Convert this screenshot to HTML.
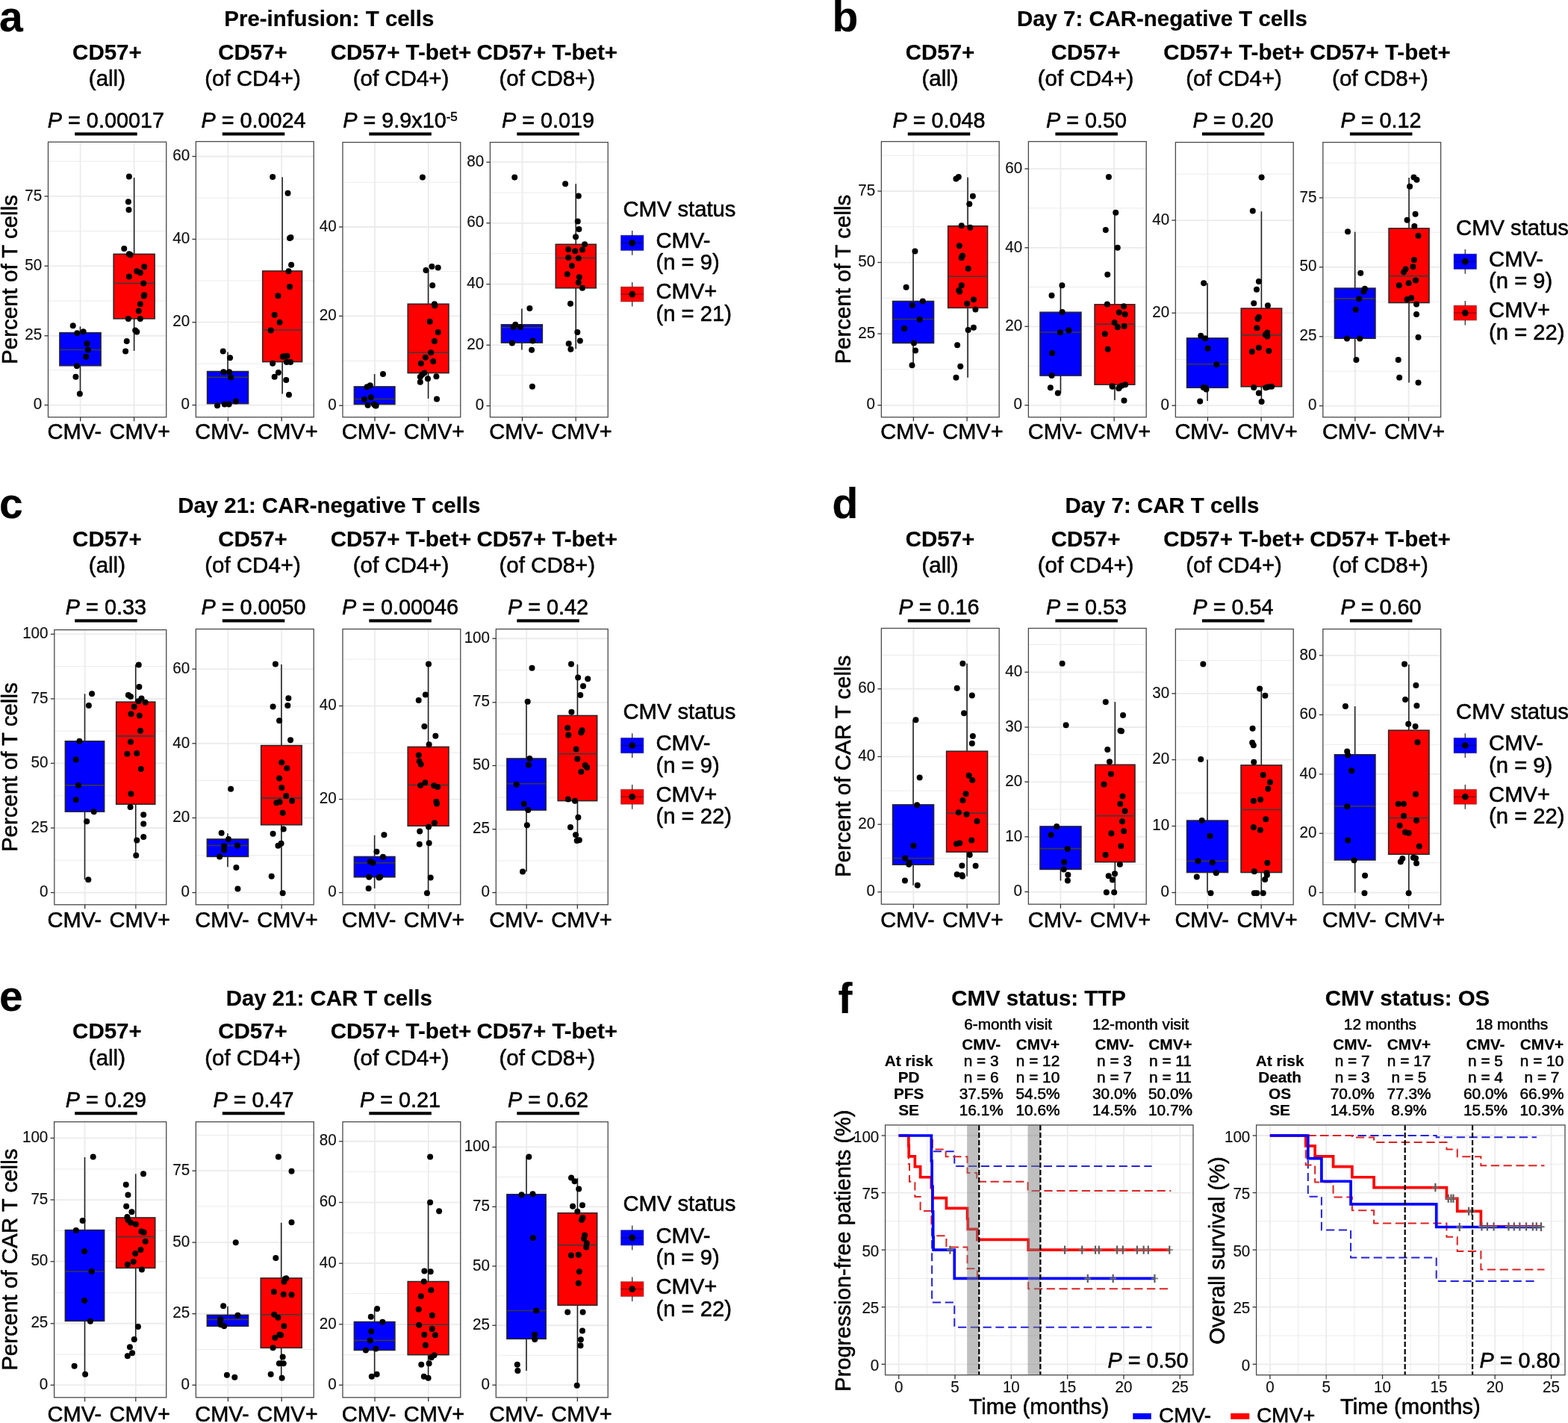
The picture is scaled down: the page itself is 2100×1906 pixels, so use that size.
<!DOCTYPE html>
<html><head><meta charset="utf-8"><title>Figure</title>
<style>html,body{margin:0;padding:0;background:#fff;}svg{display:block;}text{stroke:#000;stroke-width:0.55px;stroke-linejoin:round;}text[font-weight="bold"]{stroke-width:0.2px;}text.tk{stroke-width:0.15px;}</style>
</head><body>
<svg width="2100" height="1906" viewBox="0 0 2100 1906" font-family="'Liberation Sans', Arial, Helvetica, sans-serif">
<rect x="0" y="0" width="2100" height="1906" fill="#ffffff"/>
<text transform="translate(-1 41.8)" font-size="57" font-weight="bold" fill="#000">a</text>
<text transform="translate(440.8 35.1)" font-size="29.4" font-weight="bold" text-anchor="middle" fill="#000">Pre-infusion: T cells</text>
<rect x="64.5" y="190.19" width="158.23" height="368.58" fill="#ffffff"/>
<line x1="64.5" y1="216.15" x2="222.73" y2="216.15" stroke="#ebebeb" stroke-width="1"/>
<line x1="64.5" y1="309.59" x2="222.73" y2="309.59" stroke="#ebebeb" stroke-width="1"/>
<line x1="64.5" y1="403.03" x2="222.73" y2="403.03" stroke="#ebebeb" stroke-width="1"/>
<line x1="64.5" y1="495.85" x2="222.73" y2="495.85" stroke="#ebebeb" stroke-width="1"/>
<line x1="64.5" y1="262.87" x2="222.73" y2="262.87" stroke="#ebebeb" stroke-width="1.8"/>
<line x1="64.5" y1="356.31" x2="222.73" y2="356.31" stroke="#ebebeb" stroke-width="1.8"/>
<line x1="64.5" y1="449.75" x2="222.73" y2="449.75" stroke="#ebebeb" stroke-width="1.8"/>
<line x1="64.5" y1="542.57" x2="222.73" y2="542.57" stroke="#ebebeb" stroke-width="1.8"/>
<line x1="107.66" y1="190.19" x2="107.66" y2="558.77" stroke="#ebebeb" stroke-width="1.8"/>
<line x1="179.58" y1="190.19" x2="179.58" y2="558.77" stroke="#ebebeb" stroke-width="1.8"/>
<line x1="107.49" y1="437.3" x2="107.49" y2="445.6" stroke="#222" stroke-width="1.6"/>
<line x1="107.49" y1="489.83" x2="107.49" y2="527.62" stroke="#222" stroke-width="1.6"/>
<rect x="79.87" y="445.6" width="55.23" height="44.23" fill="#0000ff" stroke="#262626" stroke-width="1.5"/>
<line x1="79.87" y1="468.44" x2="135.1" y2="468.44" stroke="#3a3a3a" stroke-width="1.6"/>
<line x1="179.64" y1="237.95" x2="179.64" y2="340.32" stroke="#222" stroke-width="1.6"/>
<line x1="179.64" y1="426.91" x2="179.64" y2="469.9" stroke="#222" stroke-width="1.6"/>
<rect x="152.13" y="340.32" width="55.03" height="86.59" fill="#ff0000" stroke="#262626" stroke-width="1.5"/>
<line x1="152.13" y1="379.57" x2="207.16" y2="379.57" stroke="#3a3a3a" stroke-width="1.6"/>
<g fill="#000"><circle cx="97.73" cy="436.26" r="4"/><circle cx="103.33" cy="446.22" r="4"/><circle cx="111.64" cy="444.15" r="4"/><circle cx="116.42" cy="460.14" r="4"/><circle cx="117.87" cy="468.44" r="4"/><circle cx="115.17" cy="477.79" r="4"/><circle cx="102.92" cy="490.25" r="4"/><circle cx="101.46" cy="504.78" r="4"/><circle cx="106.86" cy="527.62" r="4"/><circle cx="172.9" cy="236.5" r="4"/><circle cx="171.86" cy="270.14" r="4"/><circle cx="172.48" cy="280.93" r="4"/><circle cx="166.25" cy="333.05" r="4"/><circle cx="172.9" cy="340.32" r="4"/><circle cx="174.56" cy="341.15" r="4"/><circle cx="193.25" cy="357.35" r="4"/><circle cx="183.28" cy="363.16" r="4"/><circle cx="187.85" cy="365.24" r="4"/><circle cx="172.9" cy="370.43" r="4"/><circle cx="192.21" cy="379.57" r="4"/><circle cx="193.25" cy="395.35" r="4"/><circle cx="192.62" cy="396.39" r="4"/><circle cx="187.85" cy="407.19" r="4"/><circle cx="185.77" cy="416.53" r="4"/><circle cx="171.86" cy="426.91" r="4"/><circle cx="187.85" cy="426.91" r="4"/><circle cx="181.2" cy="442.49" r="4"/><circle cx="183.28" cy="444.56" r="4"/><circle cx="169.78" cy="457.02" r="4"/><circle cx="168.12" cy="470.52" r="4"/></g>
<rect x="64.5" y="190.19" width="158.23" height="368.58" fill="none" stroke="#4a4a4a" stroke-width="1.3"/>
<line x1="59.5" y1="262.87" x2="64.5" y2="262.87" stroke="#333333" stroke-width="1.3"/>
<text transform="translate(56.2 268.57) scale(1 1.05)" font-size="20.6" text-anchor="end" fill="#111111" class="tk">75</text>
<line x1="59.5" y1="356.31" x2="64.5" y2="356.31" stroke="#333333" stroke-width="1.3"/>
<text transform="translate(56.2 362.01) scale(1 1.05)" font-size="20.6" text-anchor="end" fill="#111111" class="tk">50</text>
<line x1="59.5" y1="449.75" x2="64.5" y2="449.75" stroke="#333333" stroke-width="1.3"/>
<text transform="translate(56.2 455.45) scale(1 1.05)" font-size="20.6" text-anchor="end" fill="#111111" class="tk">25</text>
<line x1="59.5" y1="542.57" x2="64.5" y2="542.57" stroke="#333333" stroke-width="1.3"/>
<text transform="translate(56.2 548.27) scale(1 1.05)" font-size="20.6" text-anchor="end" fill="#111111" class="tk">0</text>
<line x1="107.66" y1="558.77" x2="107.66" y2="564.27" stroke="#333333" stroke-width="1.3"/>
<line x1="179.58" y1="558.77" x2="179.58" y2="564.27" stroke="#333333" stroke-width="1.3"/>
<text transform="translate(63.6 588)" font-size="29" fill="#000">CMV-</text>
<text transform="translate(146.6 588)" font-size="29" fill="#000">CMV+</text>
<text transform="translate(143.4 79.5)" font-size="29.5" font-weight="bold" text-anchor="middle" fill="#000">CD57+</text>
<text transform="translate(143.4 115.2)" font-size="29.5" text-anchor="middle" fill="#000">(all)</text>
<text transform="translate(141.9 171) scale(1 1.0)" font-size="28.8" text-anchor="middle"><tspan font-style="italic">P</tspan> = 0.00017</text>
<rect x="100.2" y="177.4" width="83.5" height="4.1" fill="#000"/>
<rect x="262.38" y="189.57" width="157.81" height="369.2" fill="#ffffff"/>
<line x1="262.38" y1="264.95" x2="420.19" y2="264.95" stroke="#ebebeb" stroke-width="1"/>
<line x1="262.38" y1="376.04" x2="420.19" y2="376.04" stroke="#ebebeb" stroke-width="1"/>
<line x1="262.38" y1="487.13" x2="420.19" y2="487.13" stroke="#ebebeb" stroke-width="1"/>
<line x1="262.38" y1="209.5" x2="420.19" y2="209.5" stroke="#ebebeb" stroke-width="1.8"/>
<line x1="262.38" y1="320.39" x2="420.19" y2="320.39" stroke="#ebebeb" stroke-width="1.8"/>
<line x1="262.38" y1="431.69" x2="420.19" y2="431.69" stroke="#ebebeb" stroke-width="1.8"/>
<line x1="262.38" y1="542.57" x2="420.19" y2="542.57" stroke="#ebebeb" stroke-width="1.8"/>
<line x1="305.42" y1="189.57" x2="305.42" y2="558.77" stroke="#ebebeb" stroke-width="1.8"/>
<line x1="377.15" y1="189.57" x2="377.15" y2="558.77" stroke="#ebebeb" stroke-width="1.8"/>
<line x1="305.05" y1="471.56" x2="305.05" y2="497.51" stroke="#222" stroke-width="1.6"/>
<rect x="277.54" y="497.51" width="55.03" height="43.19" fill="#0000ff" stroke="#262626" stroke-width="1.5"/>
<line x1="277.54" y1="505.4" x2="332.56" y2="505.4" stroke="#3a3a3a" stroke-width="1.6"/>
<line x1="378.14" y1="237.33" x2="378.14" y2="362.96" stroke="#222" stroke-width="1.6"/>
<line x1="378.14" y1="484.64" x2="378.14" y2="527.62" stroke="#222" stroke-width="1.6"/>
<rect x="351.67" y="362.96" width="52.95" height="121.68" fill="#ff0000" stroke="#262626" stroke-width="1.5"/>
<line x1="351.67" y1="442.07" x2="404.62" y2="442.07" stroke="#3a3a3a" stroke-width="1.6"/>
<g fill="#000"><circle cx="298.72" cy="470.52" r="4"/><circle cx="308.06" cy="479.24" r="4"/><circle cx="299.34" cy="498.14" r="4"/><circle cx="307.02" cy="498.14" r="4"/><circle cx="309.1" cy="505.4" r="4"/><circle cx="291.03" cy="543.2" r="4"/><circle cx="300.79" cy="541.54" r="4"/><circle cx="306.61" cy="541.54" r="4"/><circle cx="315.95" cy="537.59" r="4"/><circle cx="365.16" cy="236.91" r="4"/><circle cx="385.51" cy="258.72" r="4"/><circle cx="388.01" cy="318.93" r="4"/><circle cx="389.46" cy="317.9" r="4"/><circle cx="390.08" cy="354.86" r="4"/><circle cx="386.55" cy="363.16" r="4"/><circle cx="388.01" cy="383.93" r="4"/><circle cx="372.43" cy="396.18" r="4"/><circle cx="367.66" cy="421.72" r="4"/><circle cx="374.51" cy="431.69" r="4"/><circle cx="362.67" cy="442.49" r="4"/><circle cx="380.32" cy="477.37" r="4"/><circle cx="384.48" cy="476.75" r="4"/><circle cx="378.66" cy="477.79" r="4"/><circle cx="365.16" cy="486.72" r="4"/><circle cx="383.85" cy="485.05" r="4"/><circle cx="389.04" cy="485.05" r="4"/><circle cx="372.85" cy="498.97" r="4"/><circle cx="367.66" cy="504.78" r="4"/><circle cx="383.23" cy="508.93" r="4"/><circle cx="386.97" cy="528.66" r="4"/></g>
<rect x="262.38" y="189.57" width="157.81" height="369.2" fill="none" stroke="#4a4a4a" stroke-width="1.3"/>
<line x1="257.38" y1="209.5" x2="262.38" y2="209.5" stroke="#333333" stroke-width="1.3"/>
<text transform="translate(254.08 215.2) scale(1 1.05)" font-size="20.6" text-anchor="end" fill="#111111" class="tk">60</text>
<line x1="257.38" y1="320.39" x2="262.38" y2="320.39" stroke="#333333" stroke-width="1.3"/>
<text transform="translate(254.08 326.09) scale(1 1.05)" font-size="20.6" text-anchor="end" fill="#111111" class="tk">40</text>
<line x1="257.38" y1="431.69" x2="262.38" y2="431.69" stroke="#333333" stroke-width="1.3"/>
<text transform="translate(254.08 437.39) scale(1 1.05)" font-size="20.6" text-anchor="end" fill="#111111" class="tk">20</text>
<line x1="257.38" y1="542.57" x2="262.38" y2="542.57" stroke="#333333" stroke-width="1.3"/>
<text transform="translate(254.08 548.27) scale(1 1.05)" font-size="20.6" text-anchor="end" fill="#111111" class="tk">0</text>
<line x1="305.42" y1="558.77" x2="305.42" y2="564.27" stroke="#333333" stroke-width="1.3"/>
<line x1="377.15" y1="558.77" x2="377.15" y2="564.27" stroke="#333333" stroke-width="1.3"/>
<text transform="translate(261.2 588)" font-size="29" fill="#000">CMV-</text>
<text transform="translate(344.2 588)" font-size="29" fill="#000">CMV+</text>
<text transform="translate(338.5 79.5)" font-size="29.5" font-weight="bold" text-anchor="middle" fill="#000">CD57+</text>
<text transform="translate(338.5 115.2)" font-size="29.5" text-anchor="middle" fill="#000">(of CD4+)</text>
<text transform="translate(339.5 171) scale(1 1.0)" font-size="28.8" text-anchor="middle"><tspan font-style="italic">P</tspan> = 0.0024</text>
<rect x="297.8" y="177.4" width="83.5" height="4.1" fill="#000"/>
<rect x="458.96" y="190.61" width="157.81" height="368.16" fill="#ffffff"/>
<line x1="458.96" y1="244.18" x2="616.78" y2="244.18" stroke="#ebebeb" stroke-width="1"/>
<line x1="458.96" y1="363.58" x2="616.78" y2="363.58" stroke="#ebebeb" stroke-width="1"/>
<line x1="458.96" y1="483.39" x2="616.78" y2="483.39" stroke="#ebebeb" stroke-width="1"/>
<line x1="458.96" y1="303.98" x2="616.78" y2="303.98" stroke="#ebebeb" stroke-width="1.8"/>
<line x1="458.96" y1="423.38" x2="616.78" y2="423.38" stroke="#ebebeb" stroke-width="1.8"/>
<line x1="458.96" y1="543.2" x2="616.78" y2="543.2" stroke="#ebebeb" stroke-width="1.8"/>
<line x1="502" y1="190.61" x2="502" y2="558.77" stroke="#ebebeb" stroke-width="1.8"/>
<line x1="573.74" y1="190.61" x2="573.74" y2="558.77" stroke="#ebebeb" stroke-width="1.8"/>
<line x1="501.63" y1="501.04" x2="501.63" y2="517.86" stroke="#222" stroke-width="1.6"/>
<rect x="474.33" y="517.86" width="54.61" height="23.67" fill="#0000ff" stroke="#262626" stroke-width="1.5"/>
<line x1="474.33" y1="534.48" x2="528.94" y2="534.48" stroke="#3a3a3a" stroke-width="1.6"/>
<line x1="573.58" y1="361.5" x2="573.58" y2="407.19" stroke="#222" stroke-width="1.6"/>
<line x1="573.58" y1="499.59" x2="573.58" y2="533.85" stroke="#222" stroke-width="1.6"/>
<rect x="546.17" y="407.19" width="54.82" height="92.4" fill="#ff0000" stroke="#262626" stroke-width="1.5"/>
<line x1="546.17" y1="472.18" x2="600.99" y2="472.18" stroke="#3a3a3a" stroke-width="1.6"/>
<g fill="#000"><circle cx="512.95" cy="501.04" r="4"/><circle cx="491.56" cy="518.28" r="4"/><circle cx="495.72" cy="516.2" r="4"/><circle cx="496.75" cy="532.19" r="4"/><circle cx="488.03" cy="534.89" r="4"/><circle cx="492.6" cy="542.78" r="4"/><circle cx="500.91" cy="541.54" r="4"/><circle cx="503.61" cy="543.61" r="4"/><circle cx="502.57" cy="543.2" r="4"/><circle cx="565.9" cy="237.54" r="4"/><circle cx="578.36" cy="356.93" r="4"/><circle cx="586.67" cy="358.39" r="4"/><circle cx="570.47" cy="361.92" r="4"/><circle cx="579.19" cy="382.27" r="4"/><circle cx="581.89" cy="407.19" r="4"/><circle cx="582.31" cy="409.26" r="4"/><circle cx="575.66" cy="430.65" r="4"/><circle cx="586.67" cy="444.98" r="4"/><circle cx="581.89" cy="457.02" r="4"/><circle cx="577.11" cy="472.18" r="4"/><circle cx="569.85" cy="478.83" r="4"/><circle cx="580.23" cy="484.02" r="4"/><circle cx="563.83" cy="486.72" r="4"/><circle cx="568.39" cy="499.59" r="4"/><circle cx="565.28" cy="501.67" r="4"/><circle cx="562.79" cy="504.78" r="4"/><circle cx="572.96" cy="507.27" r="4"/><circle cx="584.38" cy="504.16" r="4"/><circle cx="562.79" cy="511.63" r="4"/><circle cx="585.01" cy="534.48" r="4"/></g>
<rect x="458.96" y="190.61" width="157.81" height="368.16" fill="none" stroke="#4a4a4a" stroke-width="1.3"/>
<line x1="453.96" y1="303.98" x2="458.96" y2="303.98" stroke="#333333" stroke-width="1.3"/>
<text transform="translate(450.66 309.68) scale(1 1.05)" font-size="20.6" text-anchor="end" fill="#111111" class="tk">40</text>
<line x1="453.96" y1="423.38" x2="458.96" y2="423.38" stroke="#333333" stroke-width="1.3"/>
<text transform="translate(450.66 429.08) scale(1 1.05)" font-size="20.6" text-anchor="end" fill="#111111" class="tk">20</text>
<line x1="453.96" y1="543.2" x2="458.96" y2="543.2" stroke="#333333" stroke-width="1.3"/>
<text transform="translate(450.66 548.9) scale(1 1.05)" font-size="20.6" text-anchor="end" fill="#111111" class="tk">0</text>
<line x1="502" y1="558.77" x2="502" y2="564.27" stroke="#333333" stroke-width="1.3"/>
<line x1="573.74" y1="558.77" x2="573.74" y2="564.27" stroke="#333333" stroke-width="1.3"/>
<text transform="translate(457.8 588)" font-size="29" fill="#000">CMV-</text>
<text transform="translate(540.8 588)" font-size="29" fill="#000">CMV+</text>
<text transform="translate(537 79.5)" font-size="29.5" font-weight="bold" text-anchor="middle" fill="#000">CD57+ T-bet+</text>
<text transform="translate(537 115.2)" font-size="29.5" text-anchor="middle" fill="#000">(of CD4+)</text>
<text transform="translate(536 171) scale(1 1.0)" font-size="28.8" text-anchor="middle"><tspan font-style="italic">P</tspan> = 9.9x10<tspan font-size="17" dy="-9">-5</tspan></text>
<rect x="494.3" y="177.4" width="83.5" height="4.1" fill="#000"/>
<rect x="656.42" y="190.61" width="157.81" height="368.16" fill="#ffffff"/>
<line x1="656.42" y1="258.09" x2="814.23" y2="258.09" stroke="#ebebeb" stroke-width="1"/>
<line x1="656.42" y1="339.7" x2="814.23" y2="339.7" stroke="#ebebeb" stroke-width="1"/>
<line x1="656.42" y1="421.31" x2="814.23" y2="421.31" stroke="#ebebeb" stroke-width="1"/>
<line x1="656.42" y1="502.7" x2="814.23" y2="502.7" stroke="#ebebeb" stroke-width="1"/>
<line x1="656.42" y1="217.19" x2="814.23" y2="217.19" stroke="#ebebeb" stroke-width="1.8"/>
<line x1="656.42" y1="298.79" x2="814.23" y2="298.79" stroke="#ebebeb" stroke-width="1.8"/>
<line x1="656.42" y1="380.61" x2="814.23" y2="380.61" stroke="#ebebeb" stroke-width="1.8"/>
<line x1="656.42" y1="462.21" x2="814.23" y2="462.21" stroke="#ebebeb" stroke-width="1.8"/>
<line x1="656.42" y1="543.61" x2="814.23" y2="543.61" stroke="#ebebeb" stroke-width="1.8"/>
<line x1="699.46" y1="190.61" x2="699.46" y2="558.77" stroke="#ebebeb" stroke-width="1.8"/>
<line x1="771.19" y1="190.61" x2="771.19" y2="558.77" stroke="#ebebeb" stroke-width="1.8"/>
<line x1="698.88" y1="413.42" x2="698.88" y2="434.8" stroke="#222" stroke-width="1.6"/>
<line x1="698.88" y1="459.1" x2="698.88" y2="468.44" stroke="#222" stroke-width="1.6"/>
<rect x="671.37" y="434.8" width="55.03" height="24.3" fill="#0000ff" stroke="#262626" stroke-width="1.5"/>
<line x1="671.37" y1="438.75" x2="726.39" y2="438.75" stroke="#3a3a3a" stroke-width="1.6"/>
<line x1="771.25" y1="246.26" x2="771.25" y2="327.24" stroke="#222" stroke-width="1.6"/>
<line x1="771.25" y1="385.8" x2="771.25" y2="467.4" stroke="#222" stroke-width="1.6"/>
<rect x="744.25" y="327.24" width="53.99" height="58.56" fill="#ff0000" stroke="#262626" stroke-width="1.5"/>
<line x1="744.25" y1="345.51" x2="798.24" y2="345.51" stroke="#3a3a3a" stroke-width="1.6"/>
<g fill="#000"><circle cx="689.22" cy="237.54" r="4"/><circle cx="709.37" cy="413" r="4"/><circle cx="690.26" cy="434.8" r="4"/><circle cx="687.56" cy="437.92" r="4"/><circle cx="696.91" cy="437.92" r="4"/><circle cx="685.9" cy="459.51" r="4"/><circle cx="713.52" cy="456.61" r="4"/><circle cx="712.07" cy="468.86" r="4"/><circle cx="712.9" cy="517.66" r="4"/><circle cx="757.13" cy="246.26" r="4"/><circle cx="774.78" cy="262.45" r="4"/><circle cx="773.74" cy="296.51" r="4"/><circle cx="775.4" cy="306.89" r="4"/><circle cx="771.04" cy="317.27" r="4"/><circle cx="783.08" cy="327.24" r="4"/><circle cx="761.28" cy="334.09" r="4"/><circle cx="770.21" cy="336.17" r="4"/><circle cx="779.97" cy="334.51" r="4"/><circle cx="761.28" cy="344.89" r="4"/><circle cx="774.78" cy="345.93" r="4"/><circle cx="765.85" cy="355.9" r="4"/><circle cx="759.83" cy="367.32" r="4"/><circle cx="775.81" cy="371.26" r="4"/><circle cx="774.78" cy="378.53" r="4"/><circle cx="779.97" cy="385.8" r="4"/><circle cx="763.98" cy="406.77" r="4"/><circle cx="773.32" cy="444.98" r="4"/><circle cx="776.85" cy="456.61" r="4"/><circle cx="761.69" cy="460.14" r="4"/><circle cx="764.39" cy="467.82" r="4"/></g>
<rect x="656.42" y="190.61" width="157.81" height="368.16" fill="none" stroke="#4a4a4a" stroke-width="1.3"/>
<line x1="651.42" y1="217.19" x2="656.42" y2="217.19" stroke="#333333" stroke-width="1.3"/>
<text transform="translate(648.12 222.89) scale(1 1.05)" font-size="20.6" text-anchor="end" fill="#111111" class="tk">80</text>
<line x1="651.42" y1="298.79" x2="656.42" y2="298.79" stroke="#333333" stroke-width="1.3"/>
<text transform="translate(648.12 304.49) scale(1 1.05)" font-size="20.6" text-anchor="end" fill="#111111" class="tk">60</text>
<line x1="651.42" y1="380.61" x2="656.42" y2="380.61" stroke="#333333" stroke-width="1.3"/>
<text transform="translate(648.12 386.31) scale(1 1.05)" font-size="20.6" text-anchor="end" fill="#111111" class="tk">40</text>
<line x1="651.42" y1="462.21" x2="656.42" y2="462.21" stroke="#333333" stroke-width="1.3"/>
<text transform="translate(648.12 467.91) scale(1 1.05)" font-size="20.6" text-anchor="end" fill="#111111" class="tk">20</text>
<line x1="651.42" y1="543.61" x2="656.42" y2="543.61" stroke="#333333" stroke-width="1.3"/>
<text transform="translate(648.12 549.31) scale(1 1.05)" font-size="20.6" text-anchor="end" fill="#111111" class="tk">0</text>
<line x1="699.46" y1="558.77" x2="699.46" y2="564.27" stroke="#333333" stroke-width="1.3"/>
<line x1="771.19" y1="558.77" x2="771.19" y2="564.27" stroke="#333333" stroke-width="1.3"/>
<text transform="translate(655.3 588)" font-size="29" fill="#000">CMV-</text>
<text transform="translate(738.3 588)" font-size="29" fill="#000">CMV+</text>
<text transform="translate(732.8 79.5)" font-size="29.5" font-weight="bold" text-anchor="middle" fill="#000">CD57+ T-bet+</text>
<text transform="translate(732.8 115.2)" font-size="29.5" text-anchor="middle" fill="#000">(of CD8+)</text>
<text transform="translate(734 171) scale(1 1.0)" font-size="28.8" text-anchor="middle"><tspan font-style="italic">P</tspan> = 0.019</text>
<rect x="692.3" y="177.4" width="83.5" height="4.1" fill="#000"/>
<text x="0" y="0" font-size="29.5" text-anchor="middle" transform="translate(23.2 374.48) rotate(-90) scale(1 1.0)">Percent of T cells</text>
<text transform="translate(834.5 289.6)" font-size="29.2" fill="#000">CMV status</text>
<line x1="846.7" y1="309.1" x2="846.7" y2="341.8" stroke="#333333" stroke-width="1.3"/>
<rect x="831.5" y="315.2" width="30.4" height="20.3" fill="#0000ff" stroke="rgba(0,0,0,0.3)" stroke-width="1.2"/>
<line x1="831.5" y1="325.35" x2="861.9" y2="325.35" stroke="rgba(0,0,0,0.35)" stroke-width="1.4"/>
<circle cx="846.7" cy="325.35" r="4.3" fill="#000"/>
<text transform="translate(878.5 332)" font-size="29.2" fill="#000">CMV-</text>
<text transform="translate(878.5 361.3)" font-size="29.2" fill="#000">(n = 9)</text>
<line x1="846.7" y1="377.9" x2="846.7" y2="410.6" stroke="#333333" stroke-width="1.3"/>
<rect x="831.5" y="384.2" width="30.4" height="19.8" fill="#ff0000" stroke="rgba(0,0,0,0.3)" stroke-width="1.2"/>
<line x1="831.5" y1="394.1" x2="861.9" y2="394.1" stroke="rgba(0,0,0,0.35)" stroke-width="1.4"/>
<circle cx="846.7" cy="394.1" r="4.3" fill="#000"/>
<text transform="translate(878.5 400.3)" font-size="29.2" fill="#000">CMV+</text>
<text transform="translate(878.5 430.1)" font-size="29.2" fill="#000">(n = 21)</text>
<text transform="translate(1114.6 41.8)" font-size="57" font-weight="bold" fill="#000">b</text>
<text transform="translate(1556.4 35.1)" font-size="29.4" font-weight="bold" text-anchor="middle" fill="#000">Day 7: CAR-negative T cells</text>
<rect x="1180.38" y="189.57" width="157.81" height="369.2" fill="#ffffff"/>
<line x1="1180.38" y1="208.26" x2="1338.19" y2="208.26" stroke="#ebebeb" stroke-width="1"/>
<line x1="1180.38" y1="303.78" x2="1338.19" y2="303.78" stroke="#ebebeb" stroke-width="1"/>
<line x1="1180.38" y1="399.3" x2="1338.19" y2="399.3" stroke="#ebebeb" stroke-width="1"/>
<line x1="1180.38" y1="494.81" x2="1338.19" y2="494.81" stroke="#ebebeb" stroke-width="1"/>
<line x1="1180.38" y1="256.02" x2="1338.19" y2="256.02" stroke="#ebebeb" stroke-width="1.8"/>
<line x1="1180.38" y1="351.54" x2="1338.19" y2="351.54" stroke="#ebebeb" stroke-width="1.8"/>
<line x1="1180.38" y1="447.05" x2="1338.19" y2="447.05" stroke="#ebebeb" stroke-width="1.8"/>
<line x1="1180.38" y1="542.78" x2="1338.19" y2="542.78" stroke="#ebebeb" stroke-width="1.8"/>
<line x1="1223.42" y1="189.57" x2="1223.42" y2="558.77" stroke="#ebebeb" stroke-width="1.8"/>
<line x1="1295.15" y1="189.57" x2="1295.15" y2="558.77" stroke="#ebebeb" stroke-width="1.8"/>
<line x1="1223.05" y1="336.58" x2="1223.05" y2="403.45" stroke="#222" stroke-width="1.6"/>
<line x1="1223.05" y1="459.51" x2="1223.05" y2="489.21" stroke="#222" stroke-width="1.6"/>
<rect x="1195.54" y="403.45" width="55.03" height="56.07" fill="#0000ff" stroke="#262626" stroke-width="1.5"/>
<line x1="1195.54" y1="427.54" x2="1250.56" y2="427.54" stroke="#3a3a3a" stroke-width="1.6"/>
<line x1="1296.14" y1="237.54" x2="1296.14" y2="302.74" stroke="#222" stroke-width="1.6"/>
<line x1="1296.14" y1="412.38" x2="1296.14" y2="505.82" stroke="#222" stroke-width="1.6"/>
<rect x="1269.67" y="302.74" width="52.95" height="109.64" fill="#ff0000" stroke="#262626" stroke-width="1.5"/>
<line x1="1269.67" y1="370.22" x2="1322.62" y2="370.22" stroke="#3a3a3a" stroke-width="1.6"/>
<g fill="#000"><circle cx="1225.44" cy="336.58" r="4"/><circle cx="1213.6" cy="384.76" r="4"/><circle cx="1235.82" cy="403.45" r="4"/><circle cx="1221.91" cy="408.64" r="4"/><circle cx="1231.67" cy="427.95" r="4"/><circle cx="1211.11" cy="439.99" r="4"/><circle cx="1223.98" cy="459.51" r="4"/><circle cx="1226.06" cy="469.48" r="4"/><circle cx="1221.49" cy="489.21" r="4"/><circle cx="1280.46" cy="239.4" r="4"/><circle cx="1283.79" cy="236.91" r="4"/><circle cx="1302.89" cy="262.87" r="4"/><circle cx="1298.32" cy="273.25" r="4"/><circle cx="1287.73" cy="302.32" r="4"/><circle cx="1299.36" cy="304.81" r="4"/><circle cx="1284.83" cy="329.32" r="4"/><circle cx="1288.98" cy="342.4" r="4"/><circle cx="1287.73" cy="345.31" r="4"/><circle cx="1296.66" cy="359.84" r="4"/><circle cx="1287.73" cy="382.27" r="4"/><circle cx="1284.2" cy="389.12" r="4"/><circle cx="1285.24" cy="390.57" r="4"/><circle cx="1295.21" cy="406.77" r="4"/><circle cx="1303.93" cy="401.37" r="4"/><circle cx="1306.42" cy="414.45" r="4"/><circle cx="1296.66" cy="442.07" r="4"/><circle cx="1303.93" cy="438.75" r="4"/><circle cx="1282.13" cy="462.21" r="4"/><circle cx="1286.28" cy="490.87" r="4"/><circle cx="1280.46" cy="505.82" r="4"/></g>
<rect x="1180.38" y="189.57" width="157.81" height="369.2" fill="none" stroke="#4a4a4a" stroke-width="1.3"/>
<line x1="1175.38" y1="256.02" x2="1180.38" y2="256.02" stroke="#333333" stroke-width="1.3"/>
<text transform="translate(1172.08 261.72) scale(1 1.05)" font-size="20.6" text-anchor="end" fill="#111111" class="tk">75</text>
<line x1="1175.38" y1="351.54" x2="1180.38" y2="351.54" stroke="#333333" stroke-width="1.3"/>
<text transform="translate(1172.08 357.24) scale(1 1.05)" font-size="20.6" text-anchor="end" fill="#111111" class="tk">50</text>
<line x1="1175.38" y1="447.05" x2="1180.38" y2="447.05" stroke="#333333" stroke-width="1.3"/>
<text transform="translate(1172.08 452.75) scale(1 1.05)" font-size="20.6" text-anchor="end" fill="#111111" class="tk">25</text>
<line x1="1175.38" y1="542.78" x2="1180.38" y2="542.78" stroke="#333333" stroke-width="1.3"/>
<text transform="translate(1172.08 548.48) scale(1 1.05)" font-size="20.6" text-anchor="end" fill="#111111" class="tk">0</text>
<line x1="1223.42" y1="558.77" x2="1223.42" y2="564.27" stroke="#333333" stroke-width="1.3"/>
<line x1="1295.15" y1="558.77" x2="1295.15" y2="564.27" stroke="#333333" stroke-width="1.3"/>
<text transform="translate(1179.2 588)" font-size="29" fill="#000">CMV-</text>
<text transform="translate(1262.2 588)" font-size="29" fill="#000">CMV+</text>
<text transform="translate(1259 79.5)" font-size="29.5" font-weight="bold" text-anchor="middle" fill="#000">CD57+</text>
<text transform="translate(1259 115.2)" font-size="29.5" text-anchor="middle" fill="#000">(all)</text>
<text transform="translate(1257.5 171) scale(1 1.0)" font-size="28.8" text-anchor="middle"><tspan font-style="italic">P</tspan> = 0.048</text>
<rect x="1215.8" y="177.4" width="83.5" height="4.1" fill="#000"/>
<rect x="1377.38" y="189.57" width="157.81" height="369.2" fill="#ffffff"/>
<line x1="1377.38" y1="278.86" x2="1535.19" y2="278.86" stroke="#ebebeb" stroke-width="1"/>
<line x1="1377.38" y1="384.34" x2="1535.19" y2="384.34" stroke="#ebebeb" stroke-width="1"/>
<line x1="1377.38" y1="490.25" x2="1535.19" y2="490.25" stroke="#ebebeb" stroke-width="1"/>
<line x1="1377.38" y1="226.11" x2="1535.19" y2="226.11" stroke="#ebebeb" stroke-width="1.8"/>
<line x1="1377.38" y1="331.81" x2="1535.19" y2="331.81" stroke="#ebebeb" stroke-width="1.8"/>
<line x1="1377.38" y1="437.3" x2="1535.19" y2="437.3" stroke="#ebebeb" stroke-width="1.8"/>
<line x1="1377.38" y1="542.78" x2="1535.19" y2="542.78" stroke="#ebebeb" stroke-width="1.8"/>
<line x1="1420.42" y1="189.57" x2="1420.42" y2="558.77" stroke="#ebebeb" stroke-width="1.8"/>
<line x1="1492.15" y1="189.57" x2="1492.15" y2="558.77" stroke="#ebebeb" stroke-width="1.8"/>
<line x1="1420.46" y1="382.27" x2="1420.46" y2="418.19" stroke="#222" stroke-width="1.6"/>
<line x1="1420.46" y1="503.12" x2="1420.46" y2="526.58" stroke="#222" stroke-width="1.6"/>
<rect x="1392.95" y="418.19" width="55.03" height="84.93" fill="#0000ff" stroke="#262626" stroke-width="1.5"/>
<line x1="1392.95" y1="444.98" x2="1447.98" y2="444.98" stroke="#3a3a3a" stroke-width="1.6"/>
<line x1="1492.93" y1="284.67" x2="1492.93" y2="407.81" stroke="#222" stroke-width="1.6"/>
<line x1="1492.93" y1="515.16" x2="1492.93" y2="535.93" stroke="#222" stroke-width="1.6"/>
<rect x="1466.04" y="407.81" width="53.78" height="107.36" fill="#ff0000" stroke="#262626" stroke-width="1.5"/>
<line x1="1466.04" y1="434.18" x2="1519.83" y2="434.18" stroke="#3a3a3a" stroke-width="1.6"/>
<g fill="#000"><circle cx="1422.44" cy="382.27" r="4"/><circle cx="1408.52" cy="395.77" r="4"/><circle cx="1422.64" cy="417.98" r="4"/><circle cx="1419.95" cy="445.19" r="4"/><circle cx="1431.37" cy="442.49" r="4"/><circle cx="1409.15" cy="473.01" r="4"/><circle cx="1408.52" cy="503.12" r="4"/><circle cx="1406.86" cy="519.32" r="4"/><circle cx="1416.83" cy="526.58" r="4"/><circle cx="1484.94" cy="236.91" r="4"/><circle cx="1494.28" cy="284.67" r="4"/><circle cx="1480.79" cy="307.93" r="4"/><circle cx="1496.78" cy="331.81" r="4"/><circle cx="1483.28" cy="367.73" r="4"/><circle cx="1482.86" cy="407.6" r="4"/><circle cx="1505.08" cy="410.3" r="4"/><circle cx="1498.85" cy="418.61" r="4"/><circle cx="1506.74" cy="421.1" r="4"/><circle cx="1492.62" cy="432.1" r="4"/><circle cx="1496.78" cy="438.33" r="4"/><circle cx="1505.7" cy="436.88" r="4"/><circle cx="1479.75" cy="447.26" r="4"/><circle cx="1483.69" cy="467.82" r="4"/><circle cx="1489.92" cy="517.86" r="4"/><circle cx="1498.85" cy="519.32" r="4"/><circle cx="1502.59" cy="516.62" r="4"/><circle cx="1507.16" cy="515.16" r="4"/><circle cx="1505.5" cy="536.55" r="4"/><circle cx="1498.23" cy="520.36" r="4"/><circle cx="1489.51" cy="517.24" r="4"/></g>
<rect x="1377.38" y="189.57" width="157.81" height="369.2" fill="none" stroke="#4a4a4a" stroke-width="1.3"/>
<line x1="1372.38" y1="226.11" x2="1377.38" y2="226.11" stroke="#333333" stroke-width="1.3"/>
<text transform="translate(1369.08 231.81) scale(1 1.05)" font-size="20.6" text-anchor="end" fill="#111111" class="tk">60</text>
<line x1="1372.38" y1="331.81" x2="1377.38" y2="331.81" stroke="#333333" stroke-width="1.3"/>
<text transform="translate(1369.08 337.51) scale(1 1.05)" font-size="20.6" text-anchor="end" fill="#111111" class="tk">40</text>
<line x1="1372.38" y1="437.3" x2="1377.38" y2="437.3" stroke="#333333" stroke-width="1.3"/>
<text transform="translate(1369.08 443) scale(1 1.05)" font-size="20.6" text-anchor="end" fill="#111111" class="tk">20</text>
<line x1="1372.38" y1="542.78" x2="1377.38" y2="542.78" stroke="#333333" stroke-width="1.3"/>
<text transform="translate(1369.08 548.48) scale(1 1.05)" font-size="20.6" text-anchor="end" fill="#111111" class="tk">0</text>
<line x1="1420.42" y1="558.77" x2="1420.42" y2="564.27" stroke="#333333" stroke-width="1.3"/>
<line x1="1492.15" y1="558.77" x2="1492.15" y2="564.27" stroke="#333333" stroke-width="1.3"/>
<text transform="translate(1376.8 588)" font-size="29" fill="#000">CMV-</text>
<text transform="translate(1459.8 588)" font-size="29" fill="#000">CMV+</text>
<text transform="translate(1454.1 79.5)" font-size="29.5" font-weight="bold" text-anchor="middle" fill="#000">CD57+</text>
<text transform="translate(1454.1 115.2)" font-size="29.5" text-anchor="middle" fill="#000">(of CD4+)</text>
<text transform="translate(1455.1 171) scale(1 1.0)" font-size="28.8" text-anchor="middle"><tspan font-style="italic">P</tspan> = 0.50</text>
<rect x="1413.4" y="177.4" width="83.5" height="4.1" fill="#000"/>
<rect x="1574.38" y="190.61" width="157.81" height="368.16" fill="#ffffff"/>
<line x1="1574.38" y1="233.17" x2="1732.19" y2="233.17" stroke="#ebebeb" stroke-width="1"/>
<line x1="1574.38" y1="357.35" x2="1732.19" y2="357.35" stroke="#ebebeb" stroke-width="1"/>
<line x1="1574.38" y1="481.52" x2="1732.19" y2="481.52" stroke="#ebebeb" stroke-width="1"/>
<line x1="1574.38" y1="295.05" x2="1732.19" y2="295.05" stroke="#ebebeb" stroke-width="1.8"/>
<line x1="1574.38" y1="419.23" x2="1732.19" y2="419.23" stroke="#ebebeb" stroke-width="1.8"/>
<line x1="1574.38" y1="543.2" x2="1732.19" y2="543.2" stroke="#ebebeb" stroke-width="1.8"/>
<line x1="1617.42" y1="190.61" x2="1617.42" y2="558.77" stroke="#ebebeb" stroke-width="1.8"/>
<line x1="1689.15" y1="190.61" x2="1689.15" y2="558.77" stroke="#ebebeb" stroke-width="1.8"/>
<line x1="1617.05" y1="379.15" x2="1617.05" y2="452.87" stroke="#222" stroke-width="1.6"/>
<line x1="1617.05" y1="519.32" x2="1617.05" y2="536.97" stroke="#222" stroke-width="1.6"/>
<rect x="1589.54" y="452.87" width="55.03" height="66.45" fill="#0000ff" stroke="#262626" stroke-width="1.5"/>
<line x1="1589.54" y1="487.75" x2="1644.56" y2="487.75" stroke="#3a3a3a" stroke-width="1.6"/>
<line x1="1689.42" y1="283.22" x2="1689.42" y2="413" stroke="#222" stroke-width="1.6"/>
<line x1="1689.42" y1="517.86" x2="1689.42" y2="538.01" stroke="#222" stroke-width="1.6"/>
<rect x="1662.21" y="413" width="54.4" height="104.86" fill="#ff0000" stroke="#262626" stroke-width="1.5"/>
<line x1="1662.21" y1="448.72" x2="1716.62" y2="448.72" stroke="#3a3a3a" stroke-width="1.6"/>
<g fill="#000"><circle cx="1612.17" cy="379.15" r="4"/><circle cx="1608.22" cy="449.75" r="4"/><circle cx="1614.25" cy="453.28" r="4"/><circle cx="1617.57" cy="466.78" r="4"/><circle cx="1629.4" cy="488.17" r="4"/><circle cx="1611.75" cy="518.9" r="4"/><circle cx="1615.49" cy="521.39" r="4"/><circle cx="1607.19" cy="537.38" r="4"/><circle cx="1614.25" cy="519.32" r="4"/><circle cx="1689.62" cy="237.54" r="4"/><circle cx="1677.79" cy="282.6" r="4"/><circle cx="1685.89" cy="377.08" r="4"/><circle cx="1682.98" cy="387.87" r="4"/><circle cx="1679.24" cy="406.15" r="4"/><circle cx="1697.93" cy="409.26" r="4"/><circle cx="1685.89" cy="424.84" r="4"/><circle cx="1684.43" cy="426.91" r="4"/><circle cx="1683.39" cy="439.37" r="4"/><circle cx="1697.31" cy="445.6" r="4"/><circle cx="1694.81" cy="448.3" r="4"/><circle cx="1697.31" cy="450.38" r="4"/><circle cx="1685.89" cy="465.74" r="4"/><circle cx="1676.75" cy="470.93" r="4"/><circle cx="1699.38" cy="469.9" r="4"/><circle cx="1679.24" cy="518.9" r="4"/><circle cx="1695.23" cy="519.32" r="4"/><circle cx="1698.34" cy="518.28" r="4"/><circle cx="1703.12" cy="517.86" r="4"/><circle cx="1685.89" cy="526.58" r="4"/><circle cx="1689.62" cy="538.01" r="4"/></g>
<rect x="1574.38" y="190.61" width="157.81" height="368.16" fill="none" stroke="#4a4a4a" stroke-width="1.3"/>
<line x1="1569.38" y1="295.05" x2="1574.38" y2="295.05" stroke="#333333" stroke-width="1.3"/>
<text transform="translate(1566.08 300.75) scale(1 1.05)" font-size="20.6" text-anchor="end" fill="#111111" class="tk">40</text>
<line x1="1569.38" y1="419.23" x2="1574.38" y2="419.23" stroke="#333333" stroke-width="1.3"/>
<text transform="translate(1566.08 424.93) scale(1 1.05)" font-size="20.6" text-anchor="end" fill="#111111" class="tk">20</text>
<line x1="1569.38" y1="543.2" x2="1574.38" y2="543.2" stroke="#333333" stroke-width="1.3"/>
<text transform="translate(1566.08 548.9) scale(1 1.05)" font-size="20.6" text-anchor="end" fill="#111111" class="tk">0</text>
<line x1="1617.42" y1="558.77" x2="1617.42" y2="564.27" stroke="#333333" stroke-width="1.3"/>
<line x1="1689.15" y1="558.77" x2="1689.15" y2="564.27" stroke="#333333" stroke-width="1.3"/>
<text transform="translate(1573.4 588)" font-size="29" fill="#000">CMV-</text>
<text transform="translate(1656.4 588)" font-size="29" fill="#000">CMV+</text>
<text transform="translate(1652.6 79.5)" font-size="29.5" font-weight="bold" text-anchor="middle" fill="#000">CD57+ T-bet+</text>
<text transform="translate(1652.6 115.2)" font-size="29.5" text-anchor="middle" fill="#000">(of CD4+)</text>
<text transform="translate(1651.6 171) scale(1 1.0)" font-size="28.8" text-anchor="middle"><tspan font-style="italic">P</tspan> = 0.20</text>
<rect x="1609.9" y="177.4" width="83.5" height="4.1" fill="#000"/>
<rect x="1771.79" y="190.61" width="157.81" height="368.16" fill="#ffffff"/>
<line x1="1771.79" y1="218.22" x2="1929.61" y2="218.22" stroke="#ebebeb" stroke-width="1"/>
<line x1="1771.79" y1="311.25" x2="1929.61" y2="311.25" stroke="#ebebeb" stroke-width="1"/>
<line x1="1771.79" y1="404.07" x2="1929.61" y2="404.07" stroke="#ebebeb" stroke-width="1"/>
<line x1="1771.79" y1="497.1" x2="1929.61" y2="497.1" stroke="#ebebeb" stroke-width="1"/>
<line x1="1771.79" y1="264.95" x2="1929.61" y2="264.95" stroke="#ebebeb" stroke-width="1.8"/>
<line x1="1771.79" y1="357.77" x2="1929.61" y2="357.77" stroke="#ebebeb" stroke-width="1.8"/>
<line x1="1771.79" y1="450.79" x2="1929.61" y2="450.79" stroke="#ebebeb" stroke-width="1.8"/>
<line x1="1771.79" y1="543.61" x2="1929.61" y2="543.61" stroke="#ebebeb" stroke-width="1.8"/>
<line x1="1814.83" y1="190.61" x2="1814.83" y2="558.77" stroke="#ebebeb" stroke-width="1.8"/>
<line x1="1886.57" y1="190.61" x2="1886.57" y2="558.77" stroke="#ebebeb" stroke-width="1.8"/>
<line x1="1814.67" y1="310.63" x2="1814.67" y2="386.01" stroke="#222" stroke-width="1.6"/>
<line x1="1814.67" y1="453.28" x2="1814.67" y2="481.94" stroke="#222" stroke-width="1.6"/>
<rect x="1787.37" y="386.01" width="54.61" height="67.28" fill="#0000ff" stroke="#262626" stroke-width="1.5"/>
<line x1="1787.37" y1="399.92" x2="1841.98" y2="399.92" stroke="#3a3a3a" stroke-width="1.6"/>
<line x1="1887.04" y1="237.95" x2="1887.04" y2="305.85" stroke="#222" stroke-width="1.6"/>
<line x1="1887.04" y1="405.52" x2="1887.04" y2="512.46" stroke="#222" stroke-width="1.6"/>
<rect x="1860.04" y="305.85" width="53.99" height="99.67" fill="#ff0000" stroke="#262626" stroke-width="1.5"/>
<line x1="1860.04" y1="369.81" x2="1914.03" y2="369.81" stroke="#3a3a3a" stroke-width="1.6"/>
<g fill="#000"><circle cx="1805.02" cy="310.21" r="4"/><circle cx="1822.25" cy="365.66" r="4"/><circle cx="1827.86" cy="386.84" r="4"/><circle cx="1826.4" cy="390.57" r="4"/><circle cx="1820.17" cy="400.33" r="4"/><circle cx="1815.61" cy="414.87" r="4"/><circle cx="1803.98" cy="453.49" r="4"/><circle cx="1821.21" cy="453.49" r="4"/><circle cx="1816.44" cy="481.94" r="4"/><circle cx="1893.48" cy="237.54" r="4"/><circle cx="1897.42" cy="240.65" r="4"/><circle cx="1888.08" cy="249.79" r="4"/><circle cx="1895.55" cy="286.75" r="4"/><circle cx="1884.55" cy="294.64" r="4"/><circle cx="1894.31" cy="302.95" r="4"/><circle cx="1899.5" cy="315.82" r="4"/><circle cx="1893.89" cy="348.01" r="4"/><circle cx="1882.47" cy="360.46" r="4"/><circle cx="1879.98" cy="364.62" r="4"/><circle cx="1892.44" cy="357.35" r="4"/><circle cx="1873.75" cy="382.27" r="4"/><circle cx="1886.62" cy="379.15" r="4"/><circle cx="1895.97" cy="375.42" r="4"/><circle cx="1884.55" cy="400.96" r="4"/><circle cx="1890.15" cy="398.88" r="4"/><circle cx="1897.01" cy="407.6" r="4"/><circle cx="1897.01" cy="421.1" r="4"/><circle cx="1899.5" cy="451.83" r="4"/><circle cx="1872.71" cy="481.94" r="4"/><circle cx="1874.16" cy="505.82" r="4"/><circle cx="1899.5" cy="512.46" r="4"/></g>
<rect x="1771.79" y="190.61" width="157.81" height="368.16" fill="none" stroke="#4a4a4a" stroke-width="1.3"/>
<line x1="1766.79" y1="264.95" x2="1771.79" y2="264.95" stroke="#333333" stroke-width="1.3"/>
<text transform="translate(1763.49 270.65) scale(1 1.05)" font-size="20.6" text-anchor="end" fill="#111111" class="tk">75</text>
<line x1="1766.79" y1="357.77" x2="1771.79" y2="357.77" stroke="#333333" stroke-width="1.3"/>
<text transform="translate(1763.49 363.47) scale(1 1.05)" font-size="20.6" text-anchor="end" fill="#111111" class="tk">50</text>
<line x1="1766.79" y1="450.79" x2="1771.79" y2="450.79" stroke="#333333" stroke-width="1.3"/>
<text transform="translate(1763.49 456.49) scale(1 1.05)" font-size="20.6" text-anchor="end" fill="#111111" class="tk">25</text>
<line x1="1766.79" y1="543.61" x2="1771.79" y2="543.61" stroke="#333333" stroke-width="1.3"/>
<text transform="translate(1763.49 549.31) scale(1 1.05)" font-size="20.6" text-anchor="end" fill="#111111" class="tk">0</text>
<line x1="1814.83" y1="558.77" x2="1814.83" y2="564.27" stroke="#333333" stroke-width="1.3"/>
<line x1="1886.57" y1="558.77" x2="1886.57" y2="564.27" stroke="#333333" stroke-width="1.3"/>
<text transform="translate(1770.9 588)" font-size="29" fill="#000">CMV-</text>
<text transform="translate(1853.9 588)" font-size="29" fill="#000">CMV+</text>
<text transform="translate(1848.4 79.5)" font-size="29.5" font-weight="bold" text-anchor="middle" fill="#000">CD57+ T-bet+</text>
<text transform="translate(1848.4 115.2)" font-size="29.5" text-anchor="middle" fill="#000">(of CD8+)</text>
<text transform="translate(1849.6 171) scale(1 1.0)" font-size="28.8" text-anchor="middle"><tspan font-style="italic">P</tspan> = 0.12</text>
<rect x="1807.9" y="177.4" width="83.5" height="4.1" fill="#000"/>
<text x="0" y="0" font-size="29.5" text-anchor="middle" transform="translate(1138.8 374.17) rotate(-90) scale(1 1.0)">Percent of T cells</text>
<text transform="translate(1950.1 314.6)" font-size="29.2" fill="#000">CMV status</text>
<line x1="1962.3" y1="334.1" x2="1962.3" y2="366.8" stroke="#333333" stroke-width="1.3"/>
<rect x="1947.1" y="340.2" width="30.4" height="20.3" fill="#0000ff" stroke="rgba(0,0,0,0.3)" stroke-width="1.2"/>
<line x1="1947.1" y1="350.35" x2="1977.5" y2="350.35" stroke="rgba(0,0,0,0.35)" stroke-width="1.4"/>
<circle cx="1962.3" cy="350.35" r="4.3" fill="#000"/>
<text transform="translate(1994.1 357)" font-size="29.2" fill="#000">CMV-</text>
<text transform="translate(1994.1 386.3)" font-size="29.2" fill="#000">(n = 9)</text>
<line x1="1962.3" y1="402.9" x2="1962.3" y2="435.6" stroke="#333333" stroke-width="1.3"/>
<rect x="1947.1" y="409.2" width="30.4" height="19.8" fill="#ff0000" stroke="rgba(0,0,0,0.3)" stroke-width="1.2"/>
<line x1="1947.1" y1="419.1" x2="1977.5" y2="419.1" stroke="rgba(0,0,0,0.35)" stroke-width="1.4"/>
<circle cx="1962.3" cy="419.1" r="4.3" fill="#000"/>
<text transform="translate(1994.1 425.3)" font-size="29.2" fill="#000">CMV+</text>
<text transform="translate(1994.1 455.1)" font-size="29.2" fill="#000">(n = 22)</text>
<text transform="translate(-1 693.8)" font-size="57" font-weight="bold" fill="#000">c</text>
<text transform="translate(440.8 687.1)" font-size="29.4" font-weight="bold" text-anchor="middle" fill="#000">Day 21: CAR-negative T cells</text>
<rect x="72.81" y="843.61" width="149.92" height="368.16" fill="#ffffff"/>
<line x1="72.81" y1="892.61" x2="222.73" y2="892.61" stroke="#ebebeb" stroke-width="1"/>
<line x1="72.81" y1="979.2" x2="222.73" y2="979.2" stroke="#ebebeb" stroke-width="1"/>
<line x1="72.81" y1="1065.79" x2="222.73" y2="1065.79" stroke="#ebebeb" stroke-width="1"/>
<line x1="72.81" y1="1152.17" x2="222.73" y2="1152.17" stroke="#ebebeb" stroke-width="1"/>
<line x1="72.81" y1="849.42" x2="222.73" y2="849.42" stroke="#ebebeb" stroke-width="1.8"/>
<line x1="72.81" y1="936.01" x2="222.73" y2="936.01" stroke="#ebebeb" stroke-width="1.8"/>
<line x1="72.81" y1="1022.39" x2="222.73" y2="1022.39" stroke="#ebebeb" stroke-width="1.8"/>
<line x1="72.81" y1="1108.98" x2="222.73" y2="1108.98" stroke="#ebebeb" stroke-width="1.8"/>
<line x1="72.81" y1="1195.57" x2="222.73" y2="1195.57" stroke="#ebebeb" stroke-width="1.8"/>
<line x1="113.7" y1="843.61" x2="113.7" y2="1211.77" stroke="#ebebeb" stroke-width="1.8"/>
<line x1="181.84" y1="843.61" x2="181.84" y2="1211.77" stroke="#ebebeb" stroke-width="1.8"/>
<line x1="113.51" y1="929.37" x2="113.51" y2="992.7" stroke="#222" stroke-width="1.6"/>
<line x1="113.51" y1="1087.18" x2="113.51" y2="1178.13" stroke="#222" stroke-width="1.6"/>
<rect x="87.34" y="992.7" width="52.33" height="94.48" fill="#0000ff" stroke="#262626" stroke-width="1.5"/>
<line x1="87.34" y1="1051.88" x2="139.67" y2="1051.88" stroke="#3a3a3a" stroke-width="1.6"/>
<line x1="181.72" y1="890.33" x2="181.72" y2="940.16" stroke="#222" stroke-width="1.6"/>
<line x1="181.72" y1="1077.21" x2="181.72" y2="1145.74" stroke="#222" stroke-width="1.6"/>
<rect x="155.66" y="940.16" width="52.12" height="137.05" fill="#ff0000" stroke="#262626" stroke-width="1.5"/>
<line x1="155.66" y1="985.85" x2="207.78" y2="985.85" stroke="#3a3a3a" stroke-width="1.6"/>
<g fill="#000"><circle cx="123.06" cy="929.37" r="4"/><circle cx="118.91" cy="944.94" r="4"/><circle cx="106.45" cy="992.7" r="4"/><circle cx="101.67" cy="1017.62" r="4"/><circle cx="104.99" cy="1051.88" r="4"/><circle cx="101.67" cy="1071.19" r="4"/><circle cx="125.76" cy="1087.18" r="4"/><circle cx="116.21" cy="1100.26" r="4"/><circle cx="118.28" cy="1178.13" r="4"/><circle cx="185.77" cy="890.54" r="4"/><circle cx="186.39" cy="920.02" r="4"/><circle cx="171.86" cy="931.03" r="4"/><circle cx="174.97" cy="933.1" r="4"/><circle cx="189.51" cy="935.6" r="4"/><circle cx="185.36" cy="939.33" r="4"/><circle cx="194.7" cy="940.79" r="4"/><circle cx="179.75" cy="946.6" r="4"/><circle cx="175.39" cy="956.36" r="4"/><circle cx="186.81" cy="958.44" r="4"/><circle cx="188.05" cy="978.79" r="4"/><circle cx="174.97" cy="993.74" r="4"/><circle cx="170.4" cy="1009.73" r="4"/><circle cx="183.28" cy="1008.9" r="4"/><circle cx="188.89" cy="1030.08" r="4"/><circle cx="175.39" cy="1063.3" r="4"/><circle cx="174.56" cy="1080.95" r="4"/><circle cx="192.21" cy="1091.33" r="4"/><circle cx="192.21" cy="1103.38" r="4"/><circle cx="192.21" cy="1121.03" r="4"/><circle cx="183.28" cy="1125.6" r="4"/><circle cx="182.24" cy="1145.74" r="4"/></g>
<rect x="72.81" y="843.61" width="149.92" height="368.16" fill="none" stroke="#4a4a4a" stroke-width="1.3"/>
<line x1="67.81" y1="849.42" x2="72.81" y2="849.42" stroke="#333333" stroke-width="1.3"/>
<text transform="translate(64.51 855.12) scale(1 1.05)" font-size="20.6" text-anchor="end" fill="#111111" class="tk">100</text>
<line x1="67.81" y1="936.01" x2="72.81" y2="936.01" stroke="#333333" stroke-width="1.3"/>
<text transform="translate(64.51 941.71) scale(1 1.05)" font-size="20.6" text-anchor="end" fill="#111111" class="tk">75</text>
<line x1="67.81" y1="1022.39" x2="72.81" y2="1022.39" stroke="#333333" stroke-width="1.3"/>
<text transform="translate(64.51 1028.09) scale(1 1.05)" font-size="20.6" text-anchor="end" fill="#111111" class="tk">50</text>
<line x1="67.81" y1="1108.98" x2="72.81" y2="1108.98" stroke="#333333" stroke-width="1.3"/>
<text transform="translate(64.51 1114.68) scale(1 1.05)" font-size="20.6" text-anchor="end" fill="#111111" class="tk">25</text>
<line x1="67.81" y1="1195.57" x2="72.81" y2="1195.57" stroke="#333333" stroke-width="1.3"/>
<text transform="translate(64.51 1201.27) scale(1 1.05)" font-size="20.6" text-anchor="end" fill="#111111" class="tk">0</text>
<line x1="113.7" y1="1211.77" x2="113.7" y2="1217.27" stroke="#333333" stroke-width="1.3"/>
<line x1="181.84" y1="1211.77" x2="181.84" y2="1217.27" stroke="#333333" stroke-width="1.3"/>
<text transform="translate(63.6 1242)" font-size="29" fill="#000">CMV-</text>
<text transform="translate(146.6 1242)" font-size="29" fill="#000">CMV+</text>
<text transform="translate(143.4 731.5)" font-size="29.5" font-weight="bold" text-anchor="middle" fill="#000">CD57+</text>
<text transform="translate(143.4 767.2)" font-size="29.5" text-anchor="middle" fill="#000">(all)</text>
<text transform="translate(141.9 823) scale(1 1.0)" font-size="28.8" text-anchor="middle"><tspan font-style="italic">P</tspan> = 0.33</text>
<rect x="100.2" y="829.4" width="83.5" height="4.1" fill="#000"/>
<rect x="262.38" y="842.57" width="157.81" height="369.2" fill="#ffffff"/>
<line x1="262.38" y1="945.98" x2="420.19" y2="945.98" stroke="#ebebeb" stroke-width="1"/>
<line x1="262.38" y1="1045.65" x2="420.19" y2="1045.65" stroke="#ebebeb" stroke-width="1"/>
<line x1="262.38" y1="1145.74" x2="420.19" y2="1145.74" stroke="#ebebeb" stroke-width="1"/>
<line x1="262.38" y1="896.14" x2="420.19" y2="896.14" stroke="#ebebeb" stroke-width="1.8"/>
<line x1="262.38" y1="995.81" x2="420.19" y2="995.81" stroke="#ebebeb" stroke-width="1.8"/>
<line x1="262.38" y1="1095.49" x2="420.19" y2="1095.49" stroke="#ebebeb" stroke-width="1.8"/>
<line x1="262.38" y1="1195.57" x2="420.19" y2="1195.57" stroke="#ebebeb" stroke-width="1.8"/>
<line x1="305.42" y1="842.57" x2="305.42" y2="1211.77" stroke="#ebebeb" stroke-width="1.8"/>
<line x1="377.15" y1="842.57" x2="377.15" y2="1211.77" stroke="#ebebeb" stroke-width="1.8"/>
<line x1="304.95" y1="1116.25" x2="304.95" y2="1123.93" stroke="#222" stroke-width="1.6"/>
<line x1="304.95" y1="1147.4" x2="304.95" y2="1161.31" stroke="#222" stroke-width="1.6"/>
<rect x="277.33" y="1123.93" width="55.23" height="23.46" fill="#0000ff" stroke="#262626" stroke-width="1.5"/>
<line x1="277.33" y1="1132.45" x2="332.56" y2="1132.45" stroke="#3a3a3a" stroke-width="1.6"/>
<line x1="376.9" y1="889.91" x2="376.9" y2="998.51" stroke="#222" stroke-width="1.6"/>
<line x1="376.9" y1="1104.83" x2="376.9" y2="1195.57" stroke="#222" stroke-width="1.6"/>
<rect x="349.59" y="998.51" width="54.61" height="106.32" fill="#ff0000" stroke="#262626" stroke-width="1.5"/>
<line x1="349.59" y1="1068.91" x2="404.2" y2="1068.91" stroke="#3a3a3a" stroke-width="1.6"/>
<g fill="#000"><circle cx="309.1" cy="1056.66" r="4"/><circle cx="296.64" cy="1115.63" r="4"/><circle cx="305.98" cy="1123.93" r="4"/><circle cx="300.17" cy="1133.28" r="4"/><circle cx="318.03" cy="1132.45" r="4"/><circle cx="300.17" cy="1138.47" r="4"/><circle cx="294.15" cy="1147.4" r="4"/><circle cx="316.37" cy="1161.93" r="4"/><circle cx="318.44" cy="1190.38" r="4"/><circle cx="368.9" cy="889.5" r="4"/><circle cx="386.34" cy="935.18" r="4"/><circle cx="365.58" cy="946.39" r="4"/><circle cx="385.31" cy="944.94" r="4"/><circle cx="374.09" cy="965.29" r="4"/><circle cx="389.04" cy="991.25" r="4"/><circle cx="377.21" cy="1021.15" r="4"/><circle cx="384.27" cy="1029.04" r="4"/><circle cx="374.09" cy="1042.54" r="4"/><circle cx="377.21" cy="1054.99" r="4"/><circle cx="383.23" cy="1066" r="4"/><circle cx="391.12" cy="1072.64" r="4"/><circle cx="370.36" cy="1075.34" r="4"/><circle cx="374.51" cy="1074.31" r="4"/><circle cx="378.66" cy="1088.84" r="4"/><circle cx="379.7" cy="1110.44" r="4"/><circle cx="365.58" cy="1116.87" r="4"/><circle cx="372.43" cy="1132.86" r="4"/><circle cx="376.58" cy="1129.75" r="4"/><circle cx="363.71" cy="1173.77" r="4"/><circle cx="378.66" cy="1196.2" r="4"/></g>
<rect x="262.38" y="842.57" width="157.81" height="369.2" fill="none" stroke="#4a4a4a" stroke-width="1.3"/>
<line x1="257.38" y1="896.14" x2="262.38" y2="896.14" stroke="#333333" stroke-width="1.3"/>
<text transform="translate(254.08 901.84) scale(1 1.05)" font-size="20.6" text-anchor="end" fill="#111111" class="tk">60</text>
<line x1="257.38" y1="995.81" x2="262.38" y2="995.81" stroke="#333333" stroke-width="1.3"/>
<text transform="translate(254.08 1001.51) scale(1 1.05)" font-size="20.6" text-anchor="end" fill="#111111" class="tk">40</text>
<line x1="257.38" y1="1095.49" x2="262.38" y2="1095.49" stroke="#333333" stroke-width="1.3"/>
<text transform="translate(254.08 1101.19) scale(1 1.05)" font-size="20.6" text-anchor="end" fill="#111111" class="tk">20</text>
<line x1="257.38" y1="1195.57" x2="262.38" y2="1195.57" stroke="#333333" stroke-width="1.3"/>
<text transform="translate(254.08 1201.27) scale(1 1.05)" font-size="20.6" text-anchor="end" fill="#111111" class="tk">0</text>
<line x1="305.42" y1="1211.77" x2="305.42" y2="1217.27" stroke="#333333" stroke-width="1.3"/>
<line x1="377.15" y1="1211.77" x2="377.15" y2="1217.27" stroke="#333333" stroke-width="1.3"/>
<text transform="translate(261.2 1242)" font-size="29" fill="#000">CMV-</text>
<text transform="translate(344.2 1242)" font-size="29" fill="#000">CMV+</text>
<text transform="translate(338.5 731.5)" font-size="29.5" font-weight="bold" text-anchor="middle" fill="#000">CD57+</text>
<text transform="translate(338.5 767.2)" font-size="29.5" text-anchor="middle" fill="#000">(of CD4+)</text>
<text transform="translate(339.5 823) scale(1 1.0)" font-size="28.8" text-anchor="middle"><tspan font-style="italic">P</tspan> = 0.0050</text>
<rect x="297.8" y="829.4" width="83.5" height="4.1" fill="#000"/>
<rect x="458.96" y="842.57" width="157.81" height="369.2" fill="#ffffff"/>
<line x1="458.96" y1="883.06" x2="616.78" y2="883.06" stroke="#ebebeb" stroke-width="1"/>
<line x1="458.96" y1="1008.27" x2="616.78" y2="1008.27" stroke="#ebebeb" stroke-width="1"/>
<line x1="458.96" y1="1132.86" x2="616.78" y2="1132.86" stroke="#ebebeb" stroke-width="1"/>
<line x1="458.96" y1="945.56" x2="616.78" y2="945.56" stroke="#ebebeb" stroke-width="1.8"/>
<line x1="458.96" y1="1070.57" x2="616.78" y2="1070.57" stroke="#ebebeb" stroke-width="1.8"/>
<line x1="458.96" y1="1195.57" x2="616.78" y2="1195.57" stroke="#ebebeb" stroke-width="1.8"/>
<line x1="502" y1="842.57" x2="502" y2="1211.77" stroke="#ebebeb" stroke-width="1.8"/>
<line x1="573.74" y1="842.57" x2="573.74" y2="1211.77" stroke="#ebebeb" stroke-width="1.8"/>
<line x1="501.63" y1="1118.74" x2="501.63" y2="1147.4" stroke="#222" stroke-width="1.6"/>
<line x1="501.63" y1="1174.81" x2="501.63" y2="1189.97" stroke="#222" stroke-width="1.6"/>
<rect x="474.33" y="1147.4" width="54.61" height="27.41" fill="#0000ff" stroke="#262626" stroke-width="1.5"/>
<line x1="474.33" y1="1155.7" x2="528.94" y2="1155.7" stroke="#3a3a3a" stroke-width="1.6"/>
<line x1="573.58" y1="889.5" x2="573.58" y2="1000.38" stroke="#222" stroke-width="1.6"/>
<line x1="573.58" y1="1106.28" x2="573.58" y2="1196.2" stroke="#222" stroke-width="1.6"/>
<rect x="546.17" y="1000.38" width="54.82" height="105.9" fill="#ff0000" stroke="#262626" stroke-width="1.5"/>
<line x1="546.17" y1="1051.46" x2="600.99" y2="1051.46" stroke="#3a3a3a" stroke-width="1.6"/>
<g fill="#000"><circle cx="514.4" cy="1118.33" r="4"/><circle cx="504.44" cy="1140.75" r="4"/><circle cx="512.95" cy="1147.81" r="4"/><circle cx="495.72" cy="1154.04" r="4"/><circle cx="499.45" cy="1155.7" r="4"/><circle cx="494.26" cy="1174.81" r="4"/><circle cx="507.55" cy="1175.43" r="4"/><circle cx="509.21" cy="1174.39" r="4"/><circle cx="493.64" cy="1189.97" r="4"/><circle cx="574" cy="889.5" r="4"/><circle cx="569.85" cy="930.4" r="4"/><circle cx="560.71" cy="938.09" r="4"/><circle cx="568.39" cy="972.97" r="4"/><circle cx="583.34" cy="985.85" r="4"/><circle cx="574.62" cy="997.27" r="4"/><circle cx="560.71" cy="1011.39" r="4"/><circle cx="561.75" cy="1019.69" r="4"/><circle cx="563.62" cy="1023.85" r="4"/><circle cx="569.43" cy="1048.14" r="4"/><circle cx="563.2" cy="1051.88" r="4"/><circle cx="581.27" cy="1052.3" r="4"/><circle cx="586.04" cy="1053.96" r="4"/><circle cx="584.38" cy="1073.68" r="4"/><circle cx="585.01" cy="1076.38" r="4"/><circle cx="581.89" cy="1102.13" r="4"/><circle cx="574" cy="1107.53" r="4"/><circle cx="562.16" cy="1113.55" r="4"/><circle cx="561.75" cy="1130.79" r="4"/><circle cx="574.62" cy="1129.13" r="4"/><circle cx="576.7" cy="1175.43" r="4"/><circle cx="571.92" cy="1196.2" r="4"/></g>
<rect x="458.96" y="842.57" width="157.81" height="369.2" fill="none" stroke="#4a4a4a" stroke-width="1.3"/>
<line x1="453.96" y1="945.56" x2="458.96" y2="945.56" stroke="#333333" stroke-width="1.3"/>
<text transform="translate(450.66 951.26) scale(1 1.05)" font-size="20.6" text-anchor="end" fill="#111111" class="tk">40</text>
<line x1="453.96" y1="1070.57" x2="458.96" y2="1070.57" stroke="#333333" stroke-width="1.3"/>
<text transform="translate(450.66 1076.27) scale(1 1.05)" font-size="20.6" text-anchor="end" fill="#111111" class="tk">20</text>
<line x1="453.96" y1="1195.57" x2="458.96" y2="1195.57" stroke="#333333" stroke-width="1.3"/>
<text transform="translate(450.66 1201.27) scale(1 1.05)" font-size="20.6" text-anchor="end" fill="#111111" class="tk">0</text>
<line x1="502" y1="1211.77" x2="502" y2="1217.27" stroke="#333333" stroke-width="1.3"/>
<line x1="573.74" y1="1211.77" x2="573.74" y2="1217.27" stroke="#333333" stroke-width="1.3"/>
<text transform="translate(457.8 1242)" font-size="29" fill="#000">CMV-</text>
<text transform="translate(540.8 1242)" font-size="29" fill="#000">CMV+</text>
<text transform="translate(537 731.5)" font-size="29.5" font-weight="bold" text-anchor="middle" fill="#000">CD57+ T-bet+</text>
<text transform="translate(537 767.2)" font-size="29.5" text-anchor="middle" fill="#000">(of CD4+)</text>
<text transform="translate(536 823) scale(1 1.0)" font-size="28.8" text-anchor="middle"><tspan font-style="italic">P</tspan> = 0.00046</text>
<rect x="494.3" y="829.4" width="83.5" height="4.1" fill="#000"/>
<rect x="664.31" y="842.57" width="149.92" height="369.2" fill="#ffffff"/>
<line x1="664.31" y1="897.8" x2="814.23" y2="897.8" stroke="#ebebeb" stroke-width="1"/>
<line x1="664.31" y1="982.94" x2="814.23" y2="982.94" stroke="#ebebeb" stroke-width="1"/>
<line x1="664.31" y1="1068.08" x2="814.23" y2="1068.08" stroke="#ebebeb" stroke-width="1"/>
<line x1="664.31" y1="1153.01" x2="814.23" y2="1153.01" stroke="#ebebeb" stroke-width="1"/>
<line x1="664.31" y1="855.23" x2="814.23" y2="855.23" stroke="#ebebeb" stroke-width="1.8"/>
<line x1="664.31" y1="940.79" x2="814.23" y2="940.79" stroke="#ebebeb" stroke-width="1.8"/>
<line x1="664.31" y1="1025.51" x2="814.23" y2="1025.51" stroke="#ebebeb" stroke-width="1.8"/>
<line x1="664.31" y1="1110.64" x2="814.23" y2="1110.64" stroke="#ebebeb" stroke-width="1.8"/>
<line x1="664.31" y1="1195.57" x2="814.23" y2="1195.57" stroke="#ebebeb" stroke-width="1.8"/>
<line x1="705.19" y1="842.57" x2="705.19" y2="1211.77" stroke="#ebebeb" stroke-width="1.8"/>
<line x1="773.34" y1="842.57" x2="773.34" y2="1211.77" stroke="#ebebeb" stroke-width="1.8"/>
<line x1="705.01" y1="939.75" x2="705.01" y2="1015.96" stroke="#222" stroke-width="1.6"/>
<line x1="705.01" y1="1085.1" x2="705.01" y2="1167.54" stroke="#222" stroke-width="1.6"/>
<rect x="678.84" y="1015.96" width="52.33" height="69.15" fill="#0000ff" stroke="#262626" stroke-width="1.5"/>
<line x1="678.84" y1="1049.8" x2="731.17" y2="1049.8" stroke="#3a3a3a" stroke-width="1.6"/>
<line x1="773.43" y1="889.91" x2="773.43" y2="958.44" stroke="#222" stroke-width="1.6"/>
<line x1="773.43" y1="1072.64" x2="773.43" y2="1125.6" stroke="#222" stroke-width="1.6"/>
<rect x="747.16" y="958.44" width="52.54" height="114.21" fill="#ff0000" stroke="#262626" stroke-width="1.5"/>
<line x1="747.16" y1="1009.73" x2="799.69" y2="1009.73" stroke="#3a3a3a" stroke-width="1.6"/>
<g fill="#000"><circle cx="712.48" cy="894.69" r="4"/><circle cx="706.67" cy="939.75" r="4"/><circle cx="709.37" cy="1015.96" r="4"/><circle cx="707.91" cy="1024.47" r="4"/><circle cx="691.72" cy="1050.84" r="4"/><circle cx="701.68" cy="1076.8" r="4"/><circle cx="707.29" cy="1085.1" r="4"/><circle cx="705.84" cy="1105.25" r="4"/><circle cx="700.02" cy="1167.54" r="4"/><circle cx="765.02" cy="889.5" r="4"/><circle cx="774.15" cy="907.56" r="4"/><circle cx="787.23" cy="909.22" r="4"/><circle cx="781.01" cy="918.98" r="4"/><circle cx="777.27" cy="931.03" r="4"/><circle cx="765.43" cy="953.66" r="4"/><circle cx="760.24" cy="975.05" r="4"/><circle cx="779.55" cy="978.16" r="4"/><circle cx="778.31" cy="981.28" r="4"/><circle cx="761.28" cy="984.39" r="4"/><circle cx="771.66" cy="1003.5" r="4"/><circle cx="773.32" cy="1016.58" r="4"/><circle cx="783.7" cy="1024.89" r="4"/><circle cx="786.2" cy="1028" r="4"/><circle cx="778.31" cy="1033.81" r="4"/><circle cx="760.86" cy="1070.57" r="4"/><circle cx="770" cy="1072.64" r="4"/><circle cx="774.36" cy="1094.86" r="4"/><circle cx="763.98" cy="1107.95" r="4"/><circle cx="771.04" cy="1118.33" r="4"/><circle cx="772.7" cy="1126.01" r="4"/><circle cx="775.81" cy="1125.18" r="4"/></g>
<rect x="664.31" y="842.57" width="149.92" height="369.2" fill="none" stroke="#4a4a4a" stroke-width="1.3"/>
<line x1="659.31" y1="855.23" x2="664.31" y2="855.23" stroke="#333333" stroke-width="1.3"/>
<text transform="translate(656.01 860.93) scale(1 1.05)" font-size="20.6" text-anchor="end" fill="#111111" class="tk">100</text>
<line x1="659.31" y1="940.79" x2="664.31" y2="940.79" stroke="#333333" stroke-width="1.3"/>
<text transform="translate(656.01 946.49) scale(1 1.05)" font-size="20.6" text-anchor="end" fill="#111111" class="tk">75</text>
<line x1="659.31" y1="1025.51" x2="664.31" y2="1025.51" stroke="#333333" stroke-width="1.3"/>
<text transform="translate(656.01 1031.21) scale(1 1.05)" font-size="20.6" text-anchor="end" fill="#111111" class="tk">50</text>
<line x1="659.31" y1="1110.64" x2="664.31" y2="1110.64" stroke="#333333" stroke-width="1.3"/>
<text transform="translate(656.01 1116.34) scale(1 1.05)" font-size="20.6" text-anchor="end" fill="#111111" class="tk">25</text>
<line x1="659.31" y1="1195.57" x2="664.31" y2="1195.57" stroke="#333333" stroke-width="1.3"/>
<text transform="translate(656.01 1201.27) scale(1 1.05)" font-size="20.6" text-anchor="end" fill="#111111" class="tk">0</text>
<line x1="705.19" y1="1211.77" x2="705.19" y2="1217.27" stroke="#333333" stroke-width="1.3"/>
<line x1="773.34" y1="1211.77" x2="773.34" y2="1217.27" stroke="#333333" stroke-width="1.3"/>
<text transform="translate(655.3 1242)" font-size="29" fill="#000">CMV-</text>
<text transform="translate(738.3 1242)" font-size="29" fill="#000">CMV+</text>
<text transform="translate(732.8 731.5)" font-size="29.5" font-weight="bold" text-anchor="middle" fill="#000">CD57+ T-bet+</text>
<text transform="translate(732.8 767.2)" font-size="29.5" text-anchor="middle" fill="#000">(of CD8+)</text>
<text transform="translate(734 823) scale(1 1.0)" font-size="28.8" text-anchor="middle"><tspan font-style="italic">P</tspan> = 0.42</text>
<rect x="692.3" y="829.4" width="83.5" height="4.1" fill="#000"/>
<text x="0" y="0" font-size="29.5" text-anchor="middle" transform="translate(23.2 1027.69) rotate(-90) scale(1 1.0)">Percent of T cells</text>
<text transform="translate(834.5 962.8)" font-size="29.2" fill="#000">CMV status</text>
<line x1="846.7" y1="982.3" x2="846.7" y2="1015" stroke="#333333" stroke-width="1.3"/>
<rect x="831.5" y="988.4" width="30.4" height="20.3" fill="#0000ff" stroke="rgba(0,0,0,0.3)" stroke-width="1.2"/>
<line x1="831.5" y1="998.55" x2="861.9" y2="998.55" stroke="rgba(0,0,0,0.35)" stroke-width="1.4"/>
<circle cx="846.7" cy="998.55" r="4.3" fill="#000"/>
<text transform="translate(878.5 1005.2)" font-size="29.2" fill="#000">CMV-</text>
<text transform="translate(878.5 1034.5)" font-size="29.2" fill="#000">(n = 9)</text>
<line x1="846.7" y1="1051.1" x2="846.7" y2="1083.8" stroke="#333333" stroke-width="1.3"/>
<rect x="831.5" y="1057.4" width="30.4" height="19.8" fill="#ff0000" stroke="rgba(0,0,0,0.3)" stroke-width="1.2"/>
<line x1="831.5" y1="1067.3" x2="861.9" y2="1067.3" stroke="rgba(0,0,0,0.35)" stroke-width="1.4"/>
<circle cx="846.7" cy="1067.3" r="4.3" fill="#000"/>
<text transform="translate(878.5 1073.5)" font-size="29.2" fill="#000">CMV+</text>
<text transform="translate(878.5 1103.3)" font-size="29.2" fill="#000">(n = 22)</text>
<text transform="translate(1114.6 693.8)" font-size="57" font-weight="bold" fill="#000">d</text>
<text transform="translate(1556.4 687.1)" font-size="29.4" font-weight="bold" text-anchor="middle" fill="#000">Day 7: CAR T cells</text>
<rect x="1180.38" y="841.53" width="157.81" height="369.62" fill="#ffffff"/>
<line x1="1180.38" y1="877.45" x2="1338.19" y2="877.45" stroke="#ebebeb" stroke-width="1"/>
<line x1="1180.38" y1="968.2" x2="1338.19" y2="968.2" stroke="#ebebeb" stroke-width="1"/>
<line x1="1180.38" y1="1059.15" x2="1338.19" y2="1059.15" stroke="#ebebeb" stroke-width="1"/>
<line x1="1180.38" y1="1149.48" x2="1338.19" y2="1149.48" stroke="#ebebeb" stroke-width="1"/>
<line x1="1180.38" y1="922.72" x2="1338.19" y2="922.72" stroke="#ebebeb" stroke-width="1.8"/>
<line x1="1180.38" y1="1013.46" x2="1338.19" y2="1013.46" stroke="#ebebeb" stroke-width="1.8"/>
<line x1="1180.38" y1="1104.21" x2="1338.19" y2="1104.21" stroke="#ebebeb" stroke-width="1.8"/>
<line x1="1180.38" y1="1194.74" x2="1338.19" y2="1194.74" stroke="#ebebeb" stroke-width="1.8"/>
<line x1="1223.42" y1="841.53" x2="1223.42" y2="1211.15" stroke="#ebebeb" stroke-width="1.8"/>
<line x1="1295.15" y1="841.53" x2="1295.15" y2="1211.15" stroke="#ebebeb" stroke-width="1.8"/>
<line x1="1223.05" y1="964.25" x2="1223.05" y2="1077.84" stroke="#222" stroke-width="1.6"/>
<line x1="1223.05" y1="1158.2" x2="1223.05" y2="1185.81" stroke="#222" stroke-width="1.6"/>
<rect x="1195.54" y="1077.84" width="55.03" height="80.36" fill="#0000ff" stroke="#262626" stroke-width="1.5"/>
<line x1="1195.54" y1="1149.48" x2="1250.56" y2="1149.48" stroke="#3a3a3a" stroke-width="1.6"/>
<line x1="1295.1" y1="888.87" x2="1295.1" y2="1006.2" stroke="#222" stroke-width="1.6"/>
<line x1="1295.1" y1="1141.17" x2="1295.1" y2="1173.77" stroke="#222" stroke-width="1.6"/>
<rect x="1267.59" y="1006.2" width="55.03" height="134.97" fill="#ff0000" stroke="#262626" stroke-width="1.5"/>
<line x1="1267.59" y1="1089.26" x2="1322.62" y2="1089.26" stroke="#3a3a3a" stroke-width="1.6"/>
<g fill="#000"><circle cx="1226.48" cy="964.25" r="4"/><circle cx="1231.67" cy="1041.5" r="4"/><circle cx="1228.14" cy="1078.25" r="4"/><circle cx="1223.36" cy="1132.86" r="4"/><circle cx="1212.15" cy="1149.48" r="4"/><circle cx="1217.34" cy="1157.78" r="4"/><circle cx="1217.75" cy="1155.7" r="4"/><circle cx="1211.94" cy="1179.58" r="4"/><circle cx="1228.76" cy="1185.81" r="4"/><circle cx="1289.39" cy="888.87" r="4"/><circle cx="1281.71" cy="921.68" r="4"/><circle cx="1301.85" cy="931.44" r="4"/><circle cx="1291.05" cy="955.32" r="4"/><circle cx="1302.89" cy="986.05" r="4"/><circle cx="1301.85" cy="995.81" r="4"/><circle cx="1297.7" cy="1038.8" r="4"/><circle cx="1302.27" cy="1045.03" r="4"/><circle cx="1293.55" cy="1063.3" r="4"/><circle cx="1289.39" cy="1072.02" r="4"/><circle cx="1283.79" cy="1088.22" r="4"/><circle cx="1294.58" cy="1090.71" r="4"/><circle cx="1308.5" cy="1100.05" r="4"/><circle cx="1301.23" cy="1125.6" r="4"/><circle cx="1281.09" cy="1130.16" r="4"/><circle cx="1285.24" cy="1129.13" r="4"/><circle cx="1298.74" cy="1144.91" r="4"/><circle cx="1288.36" cy="1159.44" r="4"/><circle cx="1306.63" cy="1159.86" r="4"/><circle cx="1281.71" cy="1171.28" r="4"/><circle cx="1288.98" cy="1173.77" r="4"/><circle cx="1288.36" cy="1172.32" r="4"/></g>
<rect x="1180.38" y="841.53" width="157.81" height="369.62" fill="none" stroke="#4a4a4a" stroke-width="1.3"/>
<line x1="1175.38" y1="922.72" x2="1180.38" y2="922.72" stroke="#333333" stroke-width="1.3"/>
<text transform="translate(1172.08 928.42) scale(1 1.05)" font-size="20.6" text-anchor="end" fill="#111111" class="tk">60</text>
<line x1="1175.38" y1="1013.46" x2="1180.38" y2="1013.46" stroke="#333333" stroke-width="1.3"/>
<text transform="translate(1172.08 1019.16) scale(1 1.05)" font-size="20.6" text-anchor="end" fill="#111111" class="tk">40</text>
<line x1="1175.38" y1="1104.21" x2="1180.38" y2="1104.21" stroke="#333333" stroke-width="1.3"/>
<text transform="translate(1172.08 1109.91) scale(1 1.05)" font-size="20.6" text-anchor="end" fill="#111111" class="tk">20</text>
<line x1="1175.38" y1="1194.74" x2="1180.38" y2="1194.74" stroke="#333333" stroke-width="1.3"/>
<text transform="translate(1172.08 1200.44) scale(1 1.05)" font-size="20.6" text-anchor="end" fill="#111111" class="tk">0</text>
<line x1="1223.42" y1="1211.15" x2="1223.42" y2="1216.65" stroke="#333333" stroke-width="1.3"/>
<line x1="1295.15" y1="1211.15" x2="1295.15" y2="1216.65" stroke="#333333" stroke-width="1.3"/>
<text transform="translate(1179.2 1242)" font-size="29" fill="#000">CMV-</text>
<text transform="translate(1262.2 1242)" font-size="29" fill="#000">CMV+</text>
<text transform="translate(1259 731.5)" font-size="29.5" font-weight="bold" text-anchor="middle" fill="#000">CD57+</text>
<text transform="translate(1259 767.2)" font-size="29.5" text-anchor="middle" fill="#000">(all)</text>
<text transform="translate(1257.5 823) scale(1 1.0)" font-size="28.8" text-anchor="middle"><tspan font-style="italic">P</tspan> = 0.16</text>
<rect x="1215.8" y="829.4" width="83.5" height="4.1" fill="#000"/>
<rect x="1377.38" y="841.53" width="157.81" height="369.62" fill="#ffffff"/>
<line x1="1377.38" y1="863.33" x2="1535.19" y2="863.33" stroke="#ebebeb" stroke-width="1"/>
<line x1="1377.38" y1="937.05" x2="1535.19" y2="937.05" stroke="#ebebeb" stroke-width="1"/>
<line x1="1377.38" y1="1010.77" x2="1535.19" y2="1010.77" stroke="#ebebeb" stroke-width="1"/>
<line x1="1377.38" y1="1084.07" x2="1535.19" y2="1084.07" stroke="#ebebeb" stroke-width="1"/>
<line x1="1377.38" y1="1157.78" x2="1535.19" y2="1157.78" stroke="#ebebeb" stroke-width="1"/>
<line x1="1377.38" y1="900.3" x2="1535.19" y2="900.3" stroke="#ebebeb" stroke-width="1.8"/>
<line x1="1377.38" y1="974.01" x2="1535.19" y2="974.01" stroke="#ebebeb" stroke-width="1.8"/>
<line x1="1377.38" y1="1047.31" x2="1535.19" y2="1047.31" stroke="#ebebeb" stroke-width="1.8"/>
<line x1="1377.38" y1="1120.82" x2="1535.19" y2="1120.82" stroke="#ebebeb" stroke-width="1.8"/>
<line x1="1377.38" y1="1194.54" x2="1535.19" y2="1194.54" stroke="#ebebeb" stroke-width="1.8"/>
<line x1="1420.42" y1="841.53" x2="1420.42" y2="1211.15" stroke="#ebebeb" stroke-width="1.8"/>
<line x1="1492.15" y1="841.53" x2="1492.15" y2="1211.15" stroke="#ebebeb" stroke-width="1.8"/>
<line x1="1420.46" y1="1164.43" x2="1420.46" y2="1179.58" stroke="#222" stroke-width="1.6"/>
<rect x="1392.95" y="1106.91" width="55.03" height="57.52" fill="#0000ff" stroke="#262626" stroke-width="1.5"/>
<line x1="1392.95" y1="1136.6" x2="1447.98" y2="1136.6" stroke="#3a3a3a" stroke-width="1.6"/>
<line x1="1493.35" y1="940.16" x2="1493.35" y2="1024.26" stroke="#222" stroke-width="1.6"/>
<line x1="1493.35" y1="1154.67" x2="1493.35" y2="1194.74" stroke="#222" stroke-width="1.6"/>
<rect x="1466.67" y="1024.26" width="53.37" height="130.4" fill="#ff0000" stroke="#262626" stroke-width="1.5"/>
<line x1="1466.67" y1="1092.79" x2="1520.03" y2="1092.79" stroke="#3a3a3a" stroke-width="1.6"/>
<g fill="#000"><circle cx="1422.64" cy="888.87" r="4"/><circle cx="1427.63" cy="971.31" r="4"/><circle cx="1415.17" cy="1106.91" r="4"/><circle cx="1407.49" cy="1118.33" r="4"/><circle cx="1429.7" cy="1137.02" r="4"/><circle cx="1425.14" cy="1154.67" r="4"/><circle cx="1424.72" cy="1164.43" r="4"/><circle cx="1430.33" cy="1171.69" r="4"/><circle cx="1429.91" cy="1179.58" r="4"/><circle cx="1480.79" cy="940.16" r="4"/><circle cx="1504.04" cy="958.02" r="4"/><circle cx="1500.51" cy="978.79" r="4"/><circle cx="1501.97" cy="979.2" r="4"/><circle cx="1483.28" cy="1004.12" r="4"/><circle cx="1485.98" cy="1020.32" r="4"/><circle cx="1487.85" cy="1036.72" r="4"/><circle cx="1478.5" cy="1050.43" r="4"/><circle cx="1503.42" cy="1066.42" r="4"/><circle cx="1500.31" cy="1076.8" r="4"/><circle cx="1506.54" cy="1086.14" r="4"/><circle cx="1503.01" cy="1100.26" r="4"/><circle cx="1505.08" cy="1113.14" r="4"/><circle cx="1488.47" cy="1116.25" r="4"/><circle cx="1501.34" cy="1133.28" r="4"/><circle cx="1480.58" cy="1144.91" r="4"/><circle cx="1499.89" cy="1157.78" r="4"/><circle cx="1484.73" cy="1173.36" r="4"/><circle cx="1493.04" cy="1170.24" r="4"/><circle cx="1489.92" cy="1178.55" r="4"/><circle cx="1481.83" cy="1195.16" r="4"/><circle cx="1492.21" cy="1195.16" r="4"/></g>
<rect x="1377.38" y="841.53" width="157.81" height="369.62" fill="none" stroke="#4a4a4a" stroke-width="1.3"/>
<line x1="1372.38" y1="900.3" x2="1377.38" y2="900.3" stroke="#333333" stroke-width="1.3"/>
<text transform="translate(1369.08 906) scale(1 1.05)" font-size="20.6" text-anchor="end" fill="#111111" class="tk">40</text>
<line x1="1372.38" y1="974.01" x2="1377.38" y2="974.01" stroke="#333333" stroke-width="1.3"/>
<text transform="translate(1369.08 979.71) scale(1 1.05)" font-size="20.6" text-anchor="end" fill="#111111" class="tk">30</text>
<line x1="1372.38" y1="1047.31" x2="1377.38" y2="1047.31" stroke="#333333" stroke-width="1.3"/>
<text transform="translate(1369.08 1053.01) scale(1 1.05)" font-size="20.6" text-anchor="end" fill="#111111" class="tk">20</text>
<line x1="1372.38" y1="1120.82" x2="1377.38" y2="1120.82" stroke="#333333" stroke-width="1.3"/>
<text transform="translate(1369.08 1126.52) scale(1 1.05)" font-size="20.6" text-anchor="end" fill="#111111" class="tk">10</text>
<line x1="1372.38" y1="1194.54" x2="1377.38" y2="1194.54" stroke="#333333" stroke-width="1.3"/>
<text transform="translate(1369.08 1200.24) scale(1 1.05)" font-size="20.6" text-anchor="end" fill="#111111" class="tk">0</text>
<line x1="1420.42" y1="1211.15" x2="1420.42" y2="1216.65" stroke="#333333" stroke-width="1.3"/>
<line x1="1492.15" y1="1211.15" x2="1492.15" y2="1216.65" stroke="#333333" stroke-width="1.3"/>
<text transform="translate(1376.8 1242)" font-size="29" fill="#000">CMV-</text>
<text transform="translate(1459.8 1242)" font-size="29" fill="#000">CMV+</text>
<text transform="translate(1454.1 731.5)" font-size="29.5" font-weight="bold" text-anchor="middle" fill="#000">CD57+</text>
<text transform="translate(1454.1 767.2)" font-size="29.5" text-anchor="middle" fill="#000">(of CD4+)</text>
<text transform="translate(1455.1 823) scale(1 1.0)" font-size="28.8" text-anchor="middle"><tspan font-style="italic">P</tspan> = 0.53</text>
<rect x="1413.4" y="829.4" width="83.5" height="4.1" fill="#000"/>
<rect x="1574.38" y="842.57" width="157.81" height="369.2" fill="#ffffff"/>
<line x1="1574.38" y1="884.72" x2="1732.19" y2="884.72" stroke="#ebebeb" stroke-width="1"/>
<line x1="1574.38" y1="973.39" x2="1732.19" y2="973.39" stroke="#ebebeb" stroke-width="1"/>
<line x1="1574.38" y1="1062.26" x2="1732.19" y2="1062.26" stroke="#ebebeb" stroke-width="1"/>
<line x1="1574.38" y1="1151.14" x2="1732.19" y2="1151.14" stroke="#ebebeb" stroke-width="1"/>
<line x1="1574.38" y1="928.95" x2="1732.19" y2="928.95" stroke="#ebebeb" stroke-width="1.8"/>
<line x1="1574.38" y1="1017.62" x2="1732.19" y2="1017.62" stroke="#ebebeb" stroke-width="1.8"/>
<line x1="1574.38" y1="1106.49" x2="1732.19" y2="1106.49" stroke="#ebebeb" stroke-width="1.8"/>
<line x1="1574.38" y1="1195.57" x2="1732.19" y2="1195.57" stroke="#ebebeb" stroke-width="1.8"/>
<line x1="1617.42" y1="842.57" x2="1617.42" y2="1211.77" stroke="#ebebeb" stroke-width="1.8"/>
<line x1="1689.15" y1="842.57" x2="1689.15" y2="1211.77" stroke="#ebebeb" stroke-width="1.8"/>
<line x1="1617.05" y1="1017.62" x2="1617.05" y2="1099.02" stroke="#222" stroke-width="1.6"/>
<line x1="1617.05" y1="1168.58" x2="1617.05" y2="1195.57" stroke="#222" stroke-width="1.6"/>
<rect x="1589.54" y="1099.02" width="55.03" height="69.56" fill="#0000ff" stroke="#262626" stroke-width="1.5"/>
<line x1="1589.54" y1="1153.21" x2="1644.56" y2="1153.21" stroke="#3a3a3a" stroke-width="1.6"/>
<line x1="1689.31" y1="924.8" x2="1689.31" y2="1024.89" stroke="#222" stroke-width="1.6"/>
<line x1="1689.31" y1="1168.58" x2="1689.31" y2="1195.57" stroke="#222" stroke-width="1.6"/>
<rect x="1662.01" y="1024.89" width="54.61" height="143.69" fill="#ff0000" stroke="#262626" stroke-width="1.5"/>
<line x1="1662.01" y1="1084.48" x2="1716.62" y2="1084.48" stroke="#3a3a3a" stroke-width="1.6"/>
<g fill="#000"><circle cx="1611.34" cy="889.5" r="4"/><circle cx="1608.22" cy="1016.99" r="4"/><circle cx="1609.68" cy="1099.02" r="4"/><circle cx="1620.48" cy="1119.78" r="4"/><circle cx="1604.49" cy="1153.21" r="4"/><circle cx="1623.8" cy="1155.29" r="4"/><circle cx="1628.78" cy="1169.2" r="4"/><circle cx="1602.83" cy="1174.39" r="4"/><circle cx="1621.51" cy="1196.2" r="4"/><circle cx="1687.13" cy="922.51" r="4"/><circle cx="1694.4" cy="931.86" r="4"/><circle cx="1677.58" cy="975.67" r="4"/><circle cx="1677.16" cy="994.78" r="4"/><circle cx="1678.83" cy="998.31" r="4"/><circle cx="1679.24" cy="1020.73" r="4"/><circle cx="1691.7" cy="1037.97" r="4"/><circle cx="1701.04" cy="1047.73" r="4"/><circle cx="1698.34" cy="1056.45" r="4"/><circle cx="1678.83" cy="1072.64" r="4"/><circle cx="1688.17" cy="1070.98" r="4"/><circle cx="1695.23" cy="1097.15" r="4"/><circle cx="1678.83" cy="1107.95" r="4"/><circle cx="1687.96" cy="1111.68" r="4"/><circle cx="1697.31" cy="1155.7" r="4"/><circle cx="1679.86" cy="1167.13" r="4"/><circle cx="1696.48" cy="1169.2" r="4"/><circle cx="1696.89" cy="1171.9" r="4"/><circle cx="1694.19" cy="1177.92" r="4"/><circle cx="1679.86" cy="1196.2" r="4"/><circle cx="1683.39" cy="1196.2" r="4"/><circle cx="1691.7" cy="1196.2" r="4"/></g>
<rect x="1574.38" y="842.57" width="157.81" height="369.2" fill="none" stroke="#4a4a4a" stroke-width="1.3"/>
<line x1="1569.38" y1="928.95" x2="1574.38" y2="928.95" stroke="#333333" stroke-width="1.3"/>
<text transform="translate(1566.08 934.65) scale(1 1.05)" font-size="20.6" text-anchor="end" fill="#111111" class="tk">30</text>
<line x1="1569.38" y1="1017.62" x2="1574.38" y2="1017.62" stroke="#333333" stroke-width="1.3"/>
<text transform="translate(1566.08 1023.32) scale(1 1.05)" font-size="20.6" text-anchor="end" fill="#111111" class="tk">20</text>
<line x1="1569.38" y1="1106.49" x2="1574.38" y2="1106.49" stroke="#333333" stroke-width="1.3"/>
<text transform="translate(1566.08 1112.19) scale(1 1.05)" font-size="20.6" text-anchor="end" fill="#111111" class="tk">10</text>
<line x1="1569.38" y1="1195.57" x2="1574.38" y2="1195.57" stroke="#333333" stroke-width="1.3"/>
<text transform="translate(1566.08 1201.27) scale(1 1.05)" font-size="20.6" text-anchor="end" fill="#111111" class="tk">0</text>
<line x1="1617.42" y1="1211.77" x2="1617.42" y2="1217.27" stroke="#333333" stroke-width="1.3"/>
<line x1="1689.15" y1="1211.77" x2="1689.15" y2="1217.27" stroke="#333333" stroke-width="1.3"/>
<text transform="translate(1573.4 1242)" font-size="29" fill="#000">CMV-</text>
<text transform="translate(1656.4 1242)" font-size="29" fill="#000">CMV+</text>
<text transform="translate(1652.6 731.5)" font-size="29.5" font-weight="bold" text-anchor="middle" fill="#000">CD57+ T-bet+</text>
<text transform="translate(1652.6 767.2)" font-size="29.5" text-anchor="middle" fill="#000">(of CD4+)</text>
<text transform="translate(1651.6 823) scale(1 1.0)" font-size="28.8" text-anchor="middle"><tspan font-style="italic">P</tspan> = 0.54</text>
<rect x="1609.9" y="829.4" width="83.5" height="4.1" fill="#000"/>
<rect x="1771.79" y="842.57" width="157.81" height="369.2" fill="#ffffff"/>
<line x1="1771.79" y1="917.53" x2="1929.61" y2="917.53" stroke="#ebebeb" stroke-width="1"/>
<line x1="1771.79" y1="997.27" x2="1929.61" y2="997.27" stroke="#ebebeb" stroke-width="1"/>
<line x1="1771.79" y1="1076.8" x2="1929.61" y2="1076.8" stroke="#ebebeb" stroke-width="1"/>
<line x1="1771.79" y1="1155.7" x2="1929.61" y2="1155.7" stroke="#ebebeb" stroke-width="1"/>
<line x1="1771.79" y1="877.87" x2="1929.61" y2="877.87" stroke="#ebebeb" stroke-width="1.8"/>
<line x1="1771.79" y1="957.4" x2="1929.61" y2="957.4" stroke="#ebebeb" stroke-width="1.8"/>
<line x1="1771.79" y1="1036.93" x2="1929.61" y2="1036.93" stroke="#ebebeb" stroke-width="1.8"/>
<line x1="1771.79" y1="1116.25" x2="1929.61" y2="1116.25" stroke="#ebebeb" stroke-width="1.8"/>
<line x1="1771.79" y1="1195.57" x2="1929.61" y2="1195.57" stroke="#ebebeb" stroke-width="1.8"/>
<line x1="1814.83" y1="842.57" x2="1814.83" y2="1211.77" stroke="#ebebeb" stroke-width="1.8"/>
<line x1="1886.57" y1="842.57" x2="1886.57" y2="1211.77" stroke="#ebebeb" stroke-width="1.8"/>
<line x1="1814.67" y1="945.98" x2="1814.67" y2="1010.77" stroke="#222" stroke-width="1.6"/>
<line x1="1814.67" y1="1151.97" x2="1814.67" y2="1195.57" stroke="#222" stroke-width="1.6"/>
<rect x="1787.37" y="1010.77" width="54.61" height="141.2" fill="#0000ff" stroke="#262626" stroke-width="1.5"/>
<line x1="1787.37" y1="1079.91" x2="1841.98" y2="1079.91" stroke="#3a3a3a" stroke-width="1.6"/>
<line x1="1886.83" y1="889.91" x2="1886.83" y2="978.16" stroke="#222" stroke-width="1.6"/>
<line x1="1886.83" y1="1144.28" x2="1886.83" y2="1195.57" stroke="#222" stroke-width="1.6"/>
<rect x="1859.63" y="978.16" width="54.4" height="166.12" fill="#ff0000" stroke="#262626" stroke-width="1.5"/>
<line x1="1859.63" y1="1095.49" x2="1914.03" y2="1095.49" stroke="#3a3a3a" stroke-width="1.6"/>
<g fill="#000"><circle cx="1801.9" cy="945.98" r="4"/><circle cx="1804.19" cy="1006.61" r="4"/><circle cx="1805.22" cy="1011.39" r="4"/><circle cx="1810.21" cy="1032.15" r="4"/><circle cx="1804.19" cy="1080.33" r="4"/><circle cx="1805.22" cy="1125.6" r="4"/><circle cx="1813.53" cy="1152.17" r="4"/><circle cx="1828.07" cy="1172.73" r="4"/><circle cx="1827.44" cy="1196.2" r="4"/><circle cx="1881.02" cy="889.5" r="4"/><circle cx="1896.38" cy="917.95" r="4"/><circle cx="1882.05" cy="937.05" r="4"/><circle cx="1897.42" cy="945.36" r="4"/><circle cx="1886.21" cy="969.86" r="4"/><circle cx="1895.55" cy="972.97" r="4"/><circle cx="1898.46" cy="994.36" r="4"/><circle cx="1895.97" cy="1063.72" r="4"/><circle cx="1872.71" cy="1076.8" r="4"/><circle cx="1879.98" cy="1076.8" r="4"/><circle cx="1879.98" cy="1092.79" r="4"/><circle cx="1897.01" cy="1099.02" r="4"/><circle cx="1874.58" cy="1105.87" r="4"/><circle cx="1882.05" cy="1114.8" r="4"/><circle cx="1886.62" cy="1115.84" r="4"/><circle cx="1900.74" cy="1133.49" r="4"/><circle cx="1878.32" cy="1149.89" r="4"/><circle cx="1875.83" cy="1154.25" r="4"/><circle cx="1892.85" cy="1148.85" r="4"/><circle cx="1895.97" cy="1149.48" r="4"/><circle cx="1897.01" cy="1156.33" r="4"/><circle cx="1886.62" cy="1196.2" r="4"/></g>
<rect x="1771.79" y="842.57" width="157.81" height="369.2" fill="none" stroke="#4a4a4a" stroke-width="1.3"/>
<line x1="1766.79" y1="877.87" x2="1771.79" y2="877.87" stroke="#333333" stroke-width="1.3"/>
<text transform="translate(1763.49 883.57) scale(1 1.05)" font-size="20.6" text-anchor="end" fill="#111111" class="tk">80</text>
<line x1="1766.79" y1="957.4" x2="1771.79" y2="957.4" stroke="#333333" stroke-width="1.3"/>
<text transform="translate(1763.49 963.1) scale(1 1.05)" font-size="20.6" text-anchor="end" fill="#111111" class="tk">60</text>
<line x1="1766.79" y1="1036.93" x2="1771.79" y2="1036.93" stroke="#333333" stroke-width="1.3"/>
<text transform="translate(1763.49 1042.63) scale(1 1.05)" font-size="20.6" text-anchor="end" fill="#111111" class="tk">40</text>
<line x1="1766.79" y1="1116.25" x2="1771.79" y2="1116.25" stroke="#333333" stroke-width="1.3"/>
<text transform="translate(1763.49 1121.95) scale(1 1.05)" font-size="20.6" text-anchor="end" fill="#111111" class="tk">20</text>
<line x1="1766.79" y1="1195.57" x2="1771.79" y2="1195.57" stroke="#333333" stroke-width="1.3"/>
<text transform="translate(1763.49 1201.27) scale(1 1.05)" font-size="20.6" text-anchor="end" fill="#111111" class="tk">0</text>
<line x1="1814.83" y1="1211.77" x2="1814.83" y2="1217.27" stroke="#333333" stroke-width="1.3"/>
<line x1="1886.57" y1="1211.77" x2="1886.57" y2="1217.27" stroke="#333333" stroke-width="1.3"/>
<text transform="translate(1770.9 1242)" font-size="29" fill="#000">CMV-</text>
<text transform="translate(1853.9 1242)" font-size="29" fill="#000">CMV+</text>
<text transform="translate(1848.4 731.5)" font-size="29.5" font-weight="bold" text-anchor="middle" fill="#000">CD57+ T-bet+</text>
<text transform="translate(1848.4 767.2)" font-size="29.5" text-anchor="middle" fill="#000">(of CD8+)</text>
<text transform="translate(1849.6 823) scale(1 1.0)" font-size="28.8" text-anchor="middle"><tspan font-style="italic">P</tspan> = 0.60</text>
<rect x="1807.9" y="829.4" width="83.5" height="4.1" fill="#000"/>
<text x="0" y="0" font-size="29.5" text-anchor="middle" transform="translate(1138.8 1026.34) rotate(-90) scale(1 1.0)">Percent of CAR T cells</text>
<text transform="translate(1950.1 962.8)" font-size="29.2" fill="#000">CMV status</text>
<line x1="1962.3" y1="982.3" x2="1962.3" y2="1015" stroke="#333333" stroke-width="1.3"/>
<rect x="1947.1" y="988.4" width="30.4" height="20.3" fill="#0000ff" stroke="rgba(0,0,0,0.3)" stroke-width="1.2"/>
<line x1="1947.1" y1="998.55" x2="1977.5" y2="998.55" stroke="rgba(0,0,0,0.35)" stroke-width="1.4"/>
<circle cx="1962.3" cy="998.55" r="4.3" fill="#000"/>
<text transform="translate(1994.1 1005.2)" font-size="29.2" fill="#000">CMV-</text>
<text transform="translate(1994.1 1034.5)" font-size="29.2" fill="#000">(n = 9)</text>
<line x1="1962.3" y1="1051.1" x2="1962.3" y2="1083.8" stroke="#333333" stroke-width="1.3"/>
<rect x="1947.1" y="1057.4" width="30.4" height="19.8" fill="#ff0000" stroke="rgba(0,0,0,0.3)" stroke-width="1.2"/>
<line x1="1947.1" y1="1067.3" x2="1977.5" y2="1067.3" stroke="rgba(0,0,0,0.35)" stroke-width="1.4"/>
<circle cx="1962.3" cy="1067.3" r="4.3" fill="#000"/>
<text transform="translate(1994.1 1073.5)" font-size="29.2" fill="#000">CMV+</text>
<text transform="translate(1994.1 1103.3)" font-size="29.2" fill="#000">(n = 22)</text>
<text transform="translate(-1 1353.6)" font-size="57" font-weight="bold" fill="#000">e</text>
<text transform="translate(440.8 1346.9)" font-size="29.4" font-weight="bold" text-anchor="middle" fill="#000">Day 21: CAR T cells</text>
<rect x="72.6" y="1502.61" width="150.13" height="369.2" fill="#ffffff"/>
<line x1="72.6" y1="1565.94" x2="222.73" y2="1565.94" stroke="#ebebeb" stroke-width="1"/>
<line x1="72.6" y1="1648.58" x2="222.73" y2="1648.58" stroke="#ebebeb" stroke-width="1"/>
<line x1="72.6" y1="1731.64" x2="222.73" y2="1731.64" stroke="#ebebeb" stroke-width="1"/>
<line x1="72.6" y1="1814.08" x2="222.73" y2="1814.08" stroke="#ebebeb" stroke-width="1"/>
<line x1="72.6" y1="1524.41" x2="222.73" y2="1524.41" stroke="#ebebeb" stroke-width="1.8"/>
<line x1="72.6" y1="1607.05" x2="222.73" y2="1607.05" stroke="#ebebeb" stroke-width="1.8"/>
<line x1="72.6" y1="1689.7" x2="222.73" y2="1689.7" stroke="#ebebeb" stroke-width="1.8"/>
<line x1="72.6" y1="1772.76" x2="222.73" y2="1772.76" stroke="#ebebeb" stroke-width="1.8"/>
<line x1="72.6" y1="1855.2" x2="222.73" y2="1855.2" stroke="#ebebeb" stroke-width="1.8"/>
<line x1="113.55" y1="1502.61" x2="113.55" y2="1871.81" stroke="#ebebeb" stroke-width="1.8"/>
<line x1="181.79" y1="1502.61" x2="181.79" y2="1871.81" stroke="#ebebeb" stroke-width="1.8"/>
<line x1="113.51" y1="1549.95" x2="113.51" y2="1647.55" stroke="#222" stroke-width="1.6"/>
<line x1="113.51" y1="1769.44" x2="113.51" y2="1840.66" stroke="#222" stroke-width="1.6"/>
<rect x="87.34" y="1647.55" width="52.33" height="121.89" fill="#0000ff" stroke="#262626" stroke-width="1.5"/>
<line x1="87.34" y1="1702.99" x2="139.67" y2="1702.99" stroke="#3a3a3a" stroke-width="1.6"/>
<line x1="181.72" y1="1572.38" x2="181.72" y2="1630.93" stroke="#222" stroke-width="1.6"/>
<line x1="181.72" y1="1698.42" x2="181.72" y2="1792.9" stroke="#222" stroke-width="1.6"/>
<rect x="155.66" y="1630.93" width="52.12" height="67.49" fill="#ff0000" stroke="#262626" stroke-width="1.5"/>
<line x1="155.66" y1="1656.48" x2="207.78" y2="1656.48" stroke="#3a3a3a" stroke-width="1.6"/>
<g fill="#000"><circle cx="124.72" cy="1549.54" r="4"/><circle cx="110.6" cy="1635.09" r="4"/><circle cx="101.88" cy="1647.96" r="4"/><circle cx="113.09" cy="1675.99" r="4"/><circle cx="122.64" cy="1702.99" r="4"/><circle cx="113.09" cy="1742.03" r="4"/><circle cx="120.98" cy="1769.64" r="4"/><circle cx="99.6" cy="1829.86" r="4"/><circle cx="114.13" cy="1840.66" r="4"/><circle cx="192" cy="1572.17" r="4"/><circle cx="168.74" cy="1586.7" r="4"/><circle cx="171.44" cy="1600.41" r="4"/><circle cx="169.16" cy="1615.78" r="4"/><circle cx="176.43" cy="1623.25" r="4"/><circle cx="170.4" cy="1629.9" r="4"/><circle cx="171.44" cy="1634.05" r="4"/><circle cx="174.97" cy="1637.79" r="4"/><circle cx="181.83" cy="1639.86" r="4"/><circle cx="189.51" cy="1649.62" r="4"/><circle cx="192.62" cy="1650.66" r="4"/><circle cx="194.7" cy="1662.7" r="4"/><circle cx="188.47" cy="1673.92" r="4"/><circle cx="181.2" cy="1679.11" r="4"/><circle cx="178.71" cy="1690.11" r="4"/><circle cx="170.82" cy="1693.85" r="4"/><circle cx="189.92" cy="1700.5" r="4"/><circle cx="184.94" cy="1776.91" r="4"/><circle cx="179.75" cy="1793.94" r="4"/><circle cx="173.93" cy="1804.32" r="4"/><circle cx="177.05" cy="1812.21" r="4"/><circle cx="170.82" cy="1816.16" r="4"/></g>
<rect x="72.6" y="1502.61" width="150.13" height="369.2" fill="none" stroke="#4a4a4a" stroke-width="1.3"/>
<line x1="67.6" y1="1524.41" x2="72.6" y2="1524.41" stroke="#333333" stroke-width="1.3"/>
<text transform="translate(64.3 1530.11) scale(1 1.05)" font-size="20.6" text-anchor="end" fill="#111111" class="tk">100</text>
<line x1="67.6" y1="1607.05" x2="72.6" y2="1607.05" stroke="#333333" stroke-width="1.3"/>
<text transform="translate(64.3 1612.75) scale(1 1.05)" font-size="20.6" text-anchor="end" fill="#111111" class="tk">75</text>
<line x1="67.6" y1="1689.7" x2="72.6" y2="1689.7" stroke="#333333" stroke-width="1.3"/>
<text transform="translate(64.3 1695.4) scale(1 1.05)" font-size="20.6" text-anchor="end" fill="#111111" class="tk">50</text>
<line x1="67.6" y1="1772.76" x2="72.6" y2="1772.76" stroke="#333333" stroke-width="1.3"/>
<text transform="translate(64.3 1778.46) scale(1 1.05)" font-size="20.6" text-anchor="end" fill="#111111" class="tk">25</text>
<line x1="67.6" y1="1855.2" x2="72.6" y2="1855.2" stroke="#333333" stroke-width="1.3"/>
<text transform="translate(64.3 1860.9) scale(1 1.05)" font-size="20.6" text-anchor="end" fill="#111111" class="tk">0</text>
<line x1="113.55" y1="1871.81" x2="113.55" y2="1877.31" stroke="#333333" stroke-width="1.3"/>
<line x1="181.79" y1="1871.81" x2="181.79" y2="1877.31" stroke="#333333" stroke-width="1.3"/>
<text transform="translate(63.6 1903.5)" font-size="29" fill="#000">CMV-</text>
<text transform="translate(146.6 1903.5)" font-size="29" fill="#000">CMV+</text>
<text transform="translate(143.4 1391.3)" font-size="29.5" font-weight="bold" text-anchor="middle" fill="#000">CD57+</text>
<text transform="translate(143.4 1427)" font-size="29.5" text-anchor="middle" fill="#000">(all)</text>
<text transform="translate(141.9 1482.8) scale(1 1.0)" font-size="28.8" text-anchor="middle"><tspan font-style="italic">P</tspan> = 0.29</text>
<rect x="100.2" y="1489.2" width="83.5" height="4.1" fill="#000"/>
<rect x="262.38" y="1502.61" width="157.81" height="369.2" fill="#ffffff"/>
<line x1="262.38" y1="1520.46" x2="420.19" y2="1520.46" stroke="#ebebeb" stroke-width="1"/>
<line x1="262.38" y1="1615.98" x2="420.19" y2="1615.98" stroke="#ebebeb" stroke-width="1"/>
<line x1="262.38" y1="1711.92" x2="420.19" y2="1711.92" stroke="#ebebeb" stroke-width="1"/>
<line x1="262.38" y1="1807.44" x2="420.19" y2="1807.44" stroke="#ebebeb" stroke-width="1"/>
<line x1="262.38" y1="1568.22" x2="420.19" y2="1568.22" stroke="#ebebeb" stroke-width="1.8"/>
<line x1="262.38" y1="1664.16" x2="420.19" y2="1664.16" stroke="#ebebeb" stroke-width="1.8"/>
<line x1="262.38" y1="1759.68" x2="420.19" y2="1759.68" stroke="#ebebeb" stroke-width="1.8"/>
<line x1="262.38" y1="1855.2" x2="420.19" y2="1855.2" stroke="#ebebeb" stroke-width="1.8"/>
<line x1="305.42" y1="1502.61" x2="305.42" y2="1871.81" stroke="#ebebeb" stroke-width="1.8"/>
<line x1="377.15" y1="1502.61" x2="377.15" y2="1871.81" stroke="#ebebeb" stroke-width="1.8"/>
<line x1="304.95" y1="1749.71" x2="304.95" y2="1761.34" stroke="#222" stroke-width="1.6"/>
<rect x="277.33" y="1761.34" width="55.23" height="14.95" fill="#0000ff" stroke="#262626" stroke-width="1.5"/>
<line x1="277.33" y1="1767.36" x2="332.56" y2="1767.36" stroke="#3a3a3a" stroke-width="1.6"/>
<line x1="376.69" y1="1637.79" x2="376.69" y2="1711.92" stroke="#222" stroke-width="1.6"/>
<line x1="376.69" y1="1805.36" x2="376.69" y2="1845.44" stroke="#222" stroke-width="1.6"/>
<rect x="349.17" y="1711.92" width="55.03" height="93.44" fill="#ff0000" stroke="#262626" stroke-width="1.5"/>
<line x1="349.17" y1="1760.72" x2="404.2" y2="1760.72" stroke="#3a3a3a" stroke-width="1.6"/>
<g fill="#000"><circle cx="315.74" cy="1664.16" r="4"/><circle cx="299.13" cy="1749.3" r="4"/><circle cx="318.44" cy="1761.75" r="4"/><circle cx="295.19" cy="1766.95" r="4"/><circle cx="295.6" cy="1774.21" r="4"/><circle cx="300.17" cy="1776.29" r="4"/><circle cx="303.91" cy="1841.7" r="4"/><circle cx="314.29" cy="1844.81" r="4"/><circle cx="294.98" cy="1771.1" r="4"/><circle cx="372.85" cy="1549.54" r="4"/><circle cx="390.5" cy="1568.64" r="4"/><circle cx="390.5" cy="1637.16" r="4"/><circle cx="369.32" cy="1684.92" r="4"/><circle cx="383.23" cy="1712.33" r="4"/><circle cx="381.78" cy="1712.96" r="4"/><circle cx="380.32" cy="1716.69" r="4"/><circle cx="366.83" cy="1730.19" r="4"/><circle cx="379.7" cy="1733.72" r="4"/><circle cx="390.5" cy="1734.14" r="4"/><circle cx="367.24" cy="1760.72" r="4"/><circle cx="372.43" cy="1764.87" r="4"/><circle cx="380.32" cy="1776.29" r="4"/><circle cx="375.96" cy="1788.13" r="4"/><circle cx="374.51" cy="1787.71" r="4"/><circle cx="368.28" cy="1791.86" r="4"/><circle cx="365.58" cy="1805.36" r="4"/><circle cx="378.66" cy="1817.4" r="4"/><circle cx="373.89" cy="1826.13" r="4"/><circle cx="379.7" cy="1826.13" r="4"/><circle cx="362.67" cy="1840.66" r="4"/><circle cx="377.62" cy="1845.85" r="4"/></g>
<rect x="262.38" y="1502.61" width="157.81" height="369.2" fill="none" stroke="#4a4a4a" stroke-width="1.3"/>
<line x1="257.38" y1="1568.22" x2="262.38" y2="1568.22" stroke="#333333" stroke-width="1.3"/>
<text transform="translate(254.08 1573.92) scale(1 1.05)" font-size="20.6" text-anchor="end" fill="#111111" class="tk">75</text>
<line x1="257.38" y1="1664.16" x2="262.38" y2="1664.16" stroke="#333333" stroke-width="1.3"/>
<text transform="translate(254.08 1669.86) scale(1 1.05)" font-size="20.6" text-anchor="end" fill="#111111" class="tk">50</text>
<line x1="257.38" y1="1759.68" x2="262.38" y2="1759.68" stroke="#333333" stroke-width="1.3"/>
<text transform="translate(254.08 1765.38) scale(1 1.05)" font-size="20.6" text-anchor="end" fill="#111111" class="tk">25</text>
<line x1="257.38" y1="1855.2" x2="262.38" y2="1855.2" stroke="#333333" stroke-width="1.3"/>
<text transform="translate(254.08 1860.9) scale(1 1.05)" font-size="20.6" text-anchor="end" fill="#111111" class="tk">0</text>
<line x1="305.42" y1="1871.81" x2="305.42" y2="1877.31" stroke="#333333" stroke-width="1.3"/>
<line x1="377.15" y1="1871.81" x2="377.15" y2="1877.31" stroke="#333333" stroke-width="1.3"/>
<text transform="translate(261.2 1903.5)" font-size="29" fill="#000">CMV-</text>
<text transform="translate(344.2 1903.5)" font-size="29" fill="#000">CMV+</text>
<text transform="translate(338.5 1391.3)" font-size="29.5" font-weight="bold" text-anchor="middle" fill="#000">CD57+</text>
<text transform="translate(338.5 1427)" font-size="29.5" text-anchor="middle" fill="#000">(of CD4+)</text>
<text transform="translate(339.5 1482.8) scale(1 1.0)" font-size="28.8" text-anchor="middle"><tspan font-style="italic">P</tspan> = 0.47</text>
<rect x="297.8" y="1489.2" width="83.5" height="4.1" fill="#000"/>
<rect x="458.96" y="1502.61" width="157.81" height="369.2" fill="#ffffff"/>
<line x1="458.96" y1="1569.68" x2="616.78" y2="1569.68" stroke="#ebebeb" stroke-width="1"/>
<line x1="458.96" y1="1651.28" x2="616.78" y2="1651.28" stroke="#ebebeb" stroke-width="1"/>
<line x1="458.96" y1="1732.68" x2="616.78" y2="1732.68" stroke="#ebebeb" stroke-width="1"/>
<line x1="458.96" y1="1814.7" x2="616.78" y2="1814.7" stroke="#ebebeb" stroke-width="1"/>
<line x1="458.96" y1="1528.77" x2="616.78" y2="1528.77" stroke="#ebebeb" stroke-width="1.8"/>
<line x1="458.96" y1="1610.58" x2="616.78" y2="1610.58" stroke="#ebebeb" stroke-width="1.8"/>
<line x1="458.96" y1="1692.19" x2="616.78" y2="1692.19" stroke="#ebebeb" stroke-width="1.8"/>
<line x1="458.96" y1="1773.8" x2="616.78" y2="1773.8" stroke="#ebebeb" stroke-width="1.8"/>
<line x1="458.96" y1="1855.2" x2="616.78" y2="1855.2" stroke="#ebebeb" stroke-width="1.8"/>
<line x1="502" y1="1502.61" x2="502" y2="1871.81" stroke="#ebebeb" stroke-width="1.8"/>
<line x1="573.74" y1="1502.61" x2="573.74" y2="1871.81" stroke="#ebebeb" stroke-width="1.8"/>
<line x1="501.63" y1="1753.03" x2="501.63" y2="1770.48" stroke="#222" stroke-width="1.6"/>
<line x1="501.63" y1="1808.48" x2="501.63" y2="1843.78" stroke="#222" stroke-width="1.6"/>
<rect x="474.33" y="1770.48" width="54.61" height="38" fill="#0000ff" stroke="#262626" stroke-width="1.5"/>
<line x1="474.33" y1="1795.39" x2="528.94" y2="1795.39" stroke="#3a3a3a" stroke-width="1.6"/>
<line x1="573.58" y1="1610.58" x2="573.58" y2="1716.49" stroke="#222" stroke-width="1.6"/>
<line x1="573.58" y1="1814.7" x2="573.58" y2="1846.48" stroke="#222" stroke-width="1.6"/>
<rect x="546.17" y="1716.49" width="54.82" height="98.22" fill="#ff0000" stroke="#262626" stroke-width="1.5"/>
<line x1="546.17" y1="1774.21" x2="600.99" y2="1774.21" stroke="#3a3a3a" stroke-width="1.6"/>
<g fill="#000"><circle cx="505.06" cy="1753.03" r="4"/><circle cx="496.75" cy="1763.83" r="4"/><circle cx="512.33" cy="1770.68" r="4"/><circle cx="497.17" cy="1783.14" r="4"/><circle cx="495.72" cy="1795.39" r="4"/><circle cx="489.9" cy="1808.48" r="4"/><circle cx="503.4" cy="1806.4" r="4"/><circle cx="504.64" cy="1840.66" r="4"/><circle cx="497.79" cy="1843.78" r="4"/><circle cx="576.08" cy="1549.54" r="4"/><circle cx="576.08" cy="1610.58" r="4"/><circle cx="588.12" cy="1622.21" r="4"/><circle cx="568.39" cy="1702.57" r="4"/><circle cx="576.7" cy="1703.2" r="4"/><circle cx="567.77" cy="1716.49" r="4"/><circle cx="577.32" cy="1727.91" r="4"/><circle cx="563.83" cy="1736.21" r="4"/><circle cx="560.71" cy="1753.86" r="4"/><circle cx="578.78" cy="1761.75" r="4"/><circle cx="561.13" cy="1774.84" r="4"/><circle cx="578.78" cy="1780.03" r="4"/><circle cx="568.39" cy="1787.71" r="4"/><circle cx="582.93" cy="1788.33" r="4"/><circle cx="569.85" cy="1801.83" r="4"/><circle cx="581.48" cy="1815.33" r="4"/><circle cx="577.74" cy="1818.23" r="4"/><circle cx="564.24" cy="1827.79" r="4"/><circle cx="574.62" cy="1826.13" r="4"/><circle cx="567.77" cy="1843.78" r="4"/><circle cx="573.58" cy="1845.85" r="4"/></g>
<rect x="458.96" y="1502.61" width="157.81" height="369.2" fill="none" stroke="#4a4a4a" stroke-width="1.3"/>
<line x1="453.96" y1="1528.77" x2="458.96" y2="1528.77" stroke="#333333" stroke-width="1.3"/>
<text transform="translate(450.66 1534.47) scale(1 1.05)" font-size="20.6" text-anchor="end" fill="#111111" class="tk">80</text>
<line x1="453.96" y1="1610.58" x2="458.96" y2="1610.58" stroke="#333333" stroke-width="1.3"/>
<text transform="translate(450.66 1616.28) scale(1 1.05)" font-size="20.6" text-anchor="end" fill="#111111" class="tk">60</text>
<line x1="453.96" y1="1692.19" x2="458.96" y2="1692.19" stroke="#333333" stroke-width="1.3"/>
<text transform="translate(450.66 1697.89) scale(1 1.05)" font-size="20.6" text-anchor="end" fill="#111111" class="tk">40</text>
<line x1="453.96" y1="1773.8" x2="458.96" y2="1773.8" stroke="#333333" stroke-width="1.3"/>
<text transform="translate(450.66 1779.5) scale(1 1.05)" font-size="20.6" text-anchor="end" fill="#111111" class="tk">20</text>
<line x1="453.96" y1="1855.2" x2="458.96" y2="1855.2" stroke="#333333" stroke-width="1.3"/>
<text transform="translate(450.66 1860.9) scale(1 1.05)" font-size="20.6" text-anchor="end" fill="#111111" class="tk">0</text>
<line x1="502" y1="1871.81" x2="502" y2="1877.31" stroke="#333333" stroke-width="1.3"/>
<line x1="573.74" y1="1871.81" x2="573.74" y2="1877.31" stroke="#333333" stroke-width="1.3"/>
<text transform="translate(457.8 1903.5)" font-size="29" fill="#000">CMV-</text>
<text transform="translate(540.8 1903.5)" font-size="29" fill="#000">CMV+</text>
<text transform="translate(537 1391.3)" font-size="29.5" font-weight="bold" text-anchor="middle" fill="#000">CD57+ T-bet+</text>
<text transform="translate(537 1427)" font-size="29.5" text-anchor="middle" fill="#000">(of CD4+)</text>
<text transform="translate(536 1482.8) scale(1 1.0)" font-size="28.8" text-anchor="middle"><tspan font-style="italic">P</tspan> = 0.21</text>
<rect x="494.3" y="1489.2" width="83.5" height="4.1" fill="#000"/>
<rect x="664.31" y="1502.61" width="149.92" height="369.2" fill="#ffffff"/>
<line x1="664.31" y1="1576.53" x2="814.23" y2="1576.53" stroke="#ebebeb" stroke-width="1"/>
<line x1="664.31" y1="1656.27" x2="814.23" y2="1656.27" stroke="#ebebeb" stroke-width="1"/>
<line x1="664.31" y1="1735.8" x2="814.23" y2="1735.8" stroke="#ebebeb" stroke-width="1"/>
<line x1="664.31" y1="1815.33" x2="814.23" y2="1815.33" stroke="#ebebeb" stroke-width="1"/>
<line x1="664.31" y1="1536.45" x2="814.23" y2="1536.45" stroke="#ebebeb" stroke-width="1.8"/>
<line x1="664.31" y1="1616.4" x2="814.23" y2="1616.4" stroke="#ebebeb" stroke-width="1.8"/>
<line x1="664.31" y1="1695.93" x2="814.23" y2="1695.93" stroke="#ebebeb" stroke-width="1.8"/>
<line x1="664.31" y1="1775.25" x2="814.23" y2="1775.25" stroke="#ebebeb" stroke-width="1.8"/>
<line x1="664.31" y1="1855.2" x2="814.23" y2="1855.2" stroke="#ebebeb" stroke-width="1.8"/>
<line x1="705.19" y1="1502.61" x2="705.19" y2="1871.81" stroke="#ebebeb" stroke-width="1.8"/>
<line x1="773.34" y1="1502.61" x2="773.34" y2="1871.81" stroke="#ebebeb" stroke-width="1.8"/>
<line x1="705.01" y1="1549.54" x2="705.01" y2="1599.79" stroke="#222" stroke-width="1.6"/>
<line x1="705.01" y1="1793.32" x2="705.01" y2="1836.09" stroke="#222" stroke-width="1.6"/>
<rect x="678.84" y="1599.79" width="52.33" height="193.53" fill="#0000ff" stroke="#262626" stroke-width="1.5"/>
<line x1="678.84" y1="1755.52" x2="731.17" y2="1755.52" stroke="#3a3a3a" stroke-width="1.6"/>
<line x1="773.43" y1="1577.98" x2="773.43" y2="1624.7" stroke="#222" stroke-width="1.6"/>
<line x1="773.43" y1="1748.26" x2="773.43" y2="1855.2" stroke="#222" stroke-width="1.6"/>
<rect x="747.16" y="1624.7" width="52.54" height="123.55" fill="#ff0000" stroke="#262626" stroke-width="1.5"/>
<line x1="747.16" y1="1667.69" x2="799.69" y2="1667.69" stroke="#3a3a3a" stroke-width="1.6"/>
<g fill="#000"><circle cx="708.33" cy="1549.54" r="4"/><circle cx="698.57" cy="1600.2" r="4"/><circle cx="713.52" cy="1599.16" r="4"/><circle cx="713.93" cy="1657.93" r="4"/><circle cx="718.3" cy="1755.52" r="4"/><circle cx="716.22" cy="1787.71" r="4"/><circle cx="716.22" cy="1793.94" r="4"/><circle cx="692.75" cy="1827.79" r="4"/><circle cx="693.38" cy="1836.09" r="4"/><circle cx="765.02" cy="1577.57" r="4"/><circle cx="769.58" cy="1582.14" r="4"/><circle cx="775.19" cy="1592.52" r="4"/><circle cx="767.09" cy="1615.78" r="4"/><circle cx="779.97" cy="1614.32" r="4"/><circle cx="773.32" cy="1622.63" r="4"/><circle cx="780.38" cy="1630.93" r="4"/><circle cx="778.93" cy="1634.05" r="4"/><circle cx="783.08" cy="1654.4" r="4"/><circle cx="782.04" cy="1658.97" r="4"/><circle cx="785.78" cy="1665.2" r="4"/><circle cx="785.16" cy="1670.39" r="4"/><circle cx="764.81" cy="1681.39" r="4"/><circle cx="774.78" cy="1680.77" r="4"/><circle cx="775.81" cy="1703.2" r="4"/><circle cx="774.78" cy="1718.77" r="4"/><circle cx="760.24" cy="1757.6" r="4"/><circle cx="780.59" cy="1757.6" r="4"/><circle cx="779.97" cy="1782.52" r="4"/><circle cx="777.89" cy="1794.36" r="4"/><circle cx="777.48" cy="1802.25" r="4"/><circle cx="772.7" cy="1855.82" r="4"/></g>
<rect x="664.31" y="1502.61" width="149.92" height="369.2" fill="none" stroke="#4a4a4a" stroke-width="1.3"/>
<line x1="659.31" y1="1536.45" x2="664.31" y2="1536.45" stroke="#333333" stroke-width="1.3"/>
<text transform="translate(656.01 1542.15) scale(1 1.05)" font-size="20.6" text-anchor="end" fill="#111111" class="tk">100</text>
<line x1="659.31" y1="1616.4" x2="664.31" y2="1616.4" stroke="#333333" stroke-width="1.3"/>
<text transform="translate(656.01 1622.1) scale(1 1.05)" font-size="20.6" text-anchor="end" fill="#111111" class="tk">75</text>
<line x1="659.31" y1="1695.93" x2="664.31" y2="1695.93" stroke="#333333" stroke-width="1.3"/>
<text transform="translate(656.01 1701.63) scale(1 1.05)" font-size="20.6" text-anchor="end" fill="#111111" class="tk">50</text>
<line x1="659.31" y1="1775.25" x2="664.31" y2="1775.25" stroke="#333333" stroke-width="1.3"/>
<text transform="translate(656.01 1780.95) scale(1 1.05)" font-size="20.6" text-anchor="end" fill="#111111" class="tk">25</text>
<line x1="659.31" y1="1855.2" x2="664.31" y2="1855.2" stroke="#333333" stroke-width="1.3"/>
<text transform="translate(656.01 1860.9) scale(1 1.05)" font-size="20.6" text-anchor="end" fill="#111111" class="tk">0</text>
<line x1="705.19" y1="1871.81" x2="705.19" y2="1877.31" stroke="#333333" stroke-width="1.3"/>
<line x1="773.34" y1="1871.81" x2="773.34" y2="1877.31" stroke="#333333" stroke-width="1.3"/>
<text transform="translate(655.3 1903.5)" font-size="29" fill="#000">CMV-</text>
<text transform="translate(738.3 1903.5)" font-size="29" fill="#000">CMV+</text>
<text transform="translate(732.8 1391.3)" font-size="29.5" font-weight="bold" text-anchor="middle" fill="#000">CD57+ T-bet+</text>
<text transform="translate(732.8 1427)" font-size="29.5" text-anchor="middle" fill="#000">(of CD8+)</text>
<text transform="translate(734 1482.8) scale(1 1.0)" font-size="28.8" text-anchor="middle"><tspan font-style="italic">P</tspan> = 0.62</text>
<rect x="692.3" y="1489.2" width="83.5" height="4.1" fill="#000"/>
<text x="0" y="0" font-size="29.5" text-anchor="middle" transform="translate(23.2 1687.21) rotate(-90) scale(1 1.0)">Percent of CAR T cells</text>
<text transform="translate(834.5 1622.1)" font-size="29.2" fill="#000">CMV status</text>
<line x1="846.7" y1="1641.6" x2="846.7" y2="1674.3" stroke="#333333" stroke-width="1.3"/>
<rect x="831.5" y="1647.7" width="30.4" height="20.3" fill="#0000ff" stroke="rgba(0,0,0,0.3)" stroke-width="1.2"/>
<line x1="831.5" y1="1657.85" x2="861.9" y2="1657.85" stroke="rgba(0,0,0,0.35)" stroke-width="1.4"/>
<circle cx="846.7" cy="1657.85" r="4.3" fill="#000"/>
<text transform="translate(878.5 1664.5)" font-size="29.2" fill="#000">CMV-</text>
<text transform="translate(878.5 1693.8)" font-size="29.2" fill="#000">(n = 9)</text>
<line x1="846.7" y1="1710.4" x2="846.7" y2="1743.1" stroke="#333333" stroke-width="1.3"/>
<rect x="831.5" y="1716.7" width="30.4" height="19.8" fill="#ff0000" stroke="rgba(0,0,0,0.3)" stroke-width="1.2"/>
<line x1="831.5" y1="1726.6" x2="861.9" y2="1726.6" stroke="rgba(0,0,0,0.35)" stroke-width="1.4"/>
<circle cx="846.7" cy="1726.6" r="4.3" fill="#000"/>
<text transform="translate(878.5 1732.8)" font-size="29.2" fill="#000">CMV+</text>
<text transform="translate(878.5 1762.6)" font-size="29.2" fill="#000">(n = 22)</text>
<text transform="translate(1122.5 1356.5)" font-size="57" font-weight="bold" fill="#000">f</text>
<rect x="1185.6" y="1506.9" width="412.4" height="334.8" fill="#fff"/>
<line x1="1241.36" y1="1506.9" x2="1241.36" y2="1841.7" stroke="#ebebeb" stroke-width="1"/>
<line x1="1316.69" y1="1506.9" x2="1316.69" y2="1841.7" stroke="#ebebeb" stroke-width="1"/>
<line x1="1392.01" y1="1506.9" x2="1392.01" y2="1841.7" stroke="#ebebeb" stroke-width="1"/>
<line x1="1467.34" y1="1506.9" x2="1467.34" y2="1841.7" stroke="#ebebeb" stroke-width="1"/>
<line x1="1542.66" y1="1506.9" x2="1542.66" y2="1841.7" stroke="#ebebeb" stroke-width="1"/>
<line x1="1185.6" y1="1789.01" x2="1598" y2="1789.01" stroke="#ebebeb" stroke-width="1"/>
<line x1="1185.6" y1="1712.44" x2="1598" y2="1712.44" stroke="#ebebeb" stroke-width="1"/>
<line x1="1185.6" y1="1635.86" x2="1598" y2="1635.86" stroke="#ebebeb" stroke-width="1"/>
<line x1="1185.6" y1="1559.29" x2="1598" y2="1559.29" stroke="#ebebeb" stroke-width="1"/>
<line x1="1203.7" y1="1506.9" x2="1203.7" y2="1841.7" stroke="#ebebeb" stroke-width="1.8"/>
<line x1="1279.03" y1="1506.9" x2="1279.03" y2="1841.7" stroke="#ebebeb" stroke-width="1.8"/>
<line x1="1354.35" y1="1506.9" x2="1354.35" y2="1841.7" stroke="#ebebeb" stroke-width="1.8"/>
<line x1="1429.67" y1="1506.9" x2="1429.67" y2="1841.7" stroke="#ebebeb" stroke-width="1.8"/>
<line x1="1505" y1="1506.9" x2="1505" y2="1841.7" stroke="#ebebeb" stroke-width="1.8"/>
<line x1="1580.33" y1="1506.9" x2="1580.33" y2="1841.7" stroke="#ebebeb" stroke-width="1.8"/>
<line x1="1185.6" y1="1827.3" x2="1598" y2="1827.3" stroke="#ebebeb" stroke-width="1.8"/>
<line x1="1185.6" y1="1750.72" x2="1598" y2="1750.72" stroke="#ebebeb" stroke-width="1.8"/>
<line x1="1185.6" y1="1674.15" x2="1598" y2="1674.15" stroke="#ebebeb" stroke-width="1.8"/>
<line x1="1185.6" y1="1597.57" x2="1598" y2="1597.57" stroke="#ebebeb" stroke-width="1.8"/>
<line x1="1185.6" y1="1521" x2="1598" y2="1521" stroke="#ebebeb" stroke-width="1.8"/>
<path d="M1203.7 1521H1248.89V1542.13H1278.27V1562.04H1542.66" fill="none" stroke="#2222dd" stroke-width="2" stroke-dasharray="11.2 5.6"/>
<path d="M1203.7 1521H1248.14V1744.6H1278.27V1777.68H1542.66" fill="none" stroke="#2222dd" stroke-width="2" stroke-dasharray="11.2 5.6"/>
<path d="M1203.7 1521H1248.89V1539.38H1266.67V1549.18H1295.6V1570.93H1308.25V1582.87H1376.65V1595.12H1568.27" fill="none" stroke="#dd2222" stroke-width="2" stroke-dasharray="11.2 5.6"/>
<path d="M1203.7 1521H1216.88V1558.98H1218.01V1582.87H1225.39V1603.09H1232.62V1622.08H1247.39V1639.54H1249.65V1655.16H1267.42V1670.47H1295.6V1699.27H1308.85V1712.44H1377.25V1726.22H1568.27" fill="none" stroke="#dd2222" stroke-width="2" stroke-dasharray="11.2 5.6"/>
<path d="M1203.7 1521H1216.88V1534.78H1217.26V1548.87H1225.39V1562.66H1232.62V1576.75H1247.39V1590.53H1248.89V1604.62H1267.42V1618.4H1295.6V1632.49H1296.35V1646.28H1308.85V1660.37H1377.25V1674.15H1566.31" fill="none" stroke="#ff0000" stroke-width="3.7"/>
<path d="M1203.7 1521H1247.39V1555H1248.14V1589H1248.89V1623H1249.65V1657H1250.1V1674.15H1278.27V1712.44H1546.43" fill="none" stroke="#0000ff" stroke-width="3.7"/>
<line x1="1421.56" y1="1674.15" x2="1430.56" y2="1674.15" stroke="#7a7a7a" stroke-width="1.8"/>
<line x1="1426.06" y1="1668.55" x2="1426.06" y2="1679.75" stroke="#5c5c5c" stroke-width="2.2"/>
<line x1="1444.76" y1="1674.15" x2="1453.76" y2="1674.15" stroke="#7a7a7a" stroke-width="1.8"/>
<line x1="1449.26" y1="1668.55" x2="1449.26" y2="1679.75" stroke="#5c5c5c" stroke-width="2.2"/>
<line x1="1462.54" y1="1674.15" x2="1471.54" y2="1674.15" stroke="#7a7a7a" stroke-width="1.8"/>
<line x1="1467.04" y1="1668.55" x2="1467.04" y2="1679.75" stroke="#5c5c5c" stroke-width="2.2"/>
<line x1="1467.36" y1="1674.15" x2="1476.36" y2="1674.15" stroke="#7a7a7a" stroke-width="1.8"/>
<line x1="1471.86" y1="1668.55" x2="1471.86" y2="1679.75" stroke="#5c5c5c" stroke-width="2.2"/>
<line x1="1491.61" y1="1674.15" x2="1500.61" y2="1674.15" stroke="#7a7a7a" stroke-width="1.8"/>
<line x1="1496.11" y1="1668.55" x2="1496.11" y2="1679.75" stroke="#5c5c5c" stroke-width="2.2"/>
<line x1="1499.29" y1="1674.15" x2="1508.29" y2="1674.15" stroke="#7a7a7a" stroke-width="1.8"/>
<line x1="1503.79" y1="1668.55" x2="1503.79" y2="1679.75" stroke="#5c5c5c" stroke-width="2.2"/>
<line x1="1518.43" y1="1674.15" x2="1527.43" y2="1674.15" stroke="#7a7a7a" stroke-width="1.8"/>
<line x1="1522.93" y1="1668.55" x2="1522.93" y2="1679.75" stroke="#5c5c5c" stroke-width="2.2"/>
<line x1="1527.17" y1="1674.15" x2="1536.17" y2="1674.15" stroke="#7a7a7a" stroke-width="1.8"/>
<line x1="1531.67" y1="1668.55" x2="1531.67" y2="1679.75" stroke="#5c5c5c" stroke-width="2.2"/>
<line x1="1533.34" y1="1674.15" x2="1542.34" y2="1674.15" stroke="#7a7a7a" stroke-width="1.8"/>
<line x1="1537.84" y1="1668.55" x2="1537.84" y2="1679.75" stroke="#5c5c5c" stroke-width="2.2"/>
<line x1="1561.81" y1="1674.15" x2="1570.81" y2="1674.15" stroke="#7a7a7a" stroke-width="1.8"/>
<line x1="1566.31" y1="1668.55" x2="1566.31" y2="1679.75" stroke="#5c5c5c" stroke-width="2.2"/>
<line x1="1267.9" y1="1674.15" x2="1276.9" y2="1674.15" stroke="#7a7a7a" stroke-width="1.8"/>
<line x1="1272.4" y1="1668.55" x2="1272.4" y2="1679.75" stroke="#5c5c5c" stroke-width="2.2"/>
<line x1="1452.29" y1="1712.44" x2="1461.29" y2="1712.44" stroke="#7a7a7a" stroke-width="1.8"/>
<line x1="1456.79" y1="1706.84" x2="1456.79" y2="1718.04" stroke="#5c5c5c" stroke-width="2.2"/>
<line x1="1486.19" y1="1712.44" x2="1495.19" y2="1712.44" stroke="#7a7a7a" stroke-width="1.8"/>
<line x1="1490.69" y1="1706.84" x2="1490.69" y2="1718.04" stroke="#5c5c5c" stroke-width="2.2"/>
<line x1="1541.93" y1="1712.44" x2="1550.93" y2="1712.44" stroke="#7a7a7a" stroke-width="1.8"/>
<line x1="1546.43" y1="1706.84" x2="1546.43" y2="1718.04" stroke="#5c5c5c" stroke-width="2.2"/>
<rect x="1295.14" y="1506.9" width="16.12" height="334.8" fill="#7f7f7f" fill-opacity="0.5"/>
<rect x="1376.5" y="1506.9" width="16.87" height="334.8" fill="#7f7f7f" fill-opacity="0.5"/>
<line x1="1311.26" y1="1506.9" x2="1311.26" y2="1841.7" stroke="#000" stroke-width="2.2" stroke-dasharray="7 3"/>
<line x1="1393.37" y1="1506.9" x2="1393.37" y2="1841.7" stroke="#000" stroke-width="2.2" stroke-dasharray="7 3"/>
<rect x="1185.6" y="1506.9" width="412.4" height="334.8" fill="none" stroke="#4a4a4a" stroke-width="1.3"/>
<line x1="1180.6" y1="1827.3" x2="1185.6" y2="1827.3" stroke="#333333" stroke-width="1.3"/>
<text transform="translate(1177.3 1835.9) scale(1 1.05)" font-size="20.6" text-anchor="end" fill="#111111" class="tk">0</text>
<line x1="1180.6" y1="1750.72" x2="1185.6" y2="1750.72" stroke="#333333" stroke-width="1.3"/>
<text transform="translate(1177.3 1759.32) scale(1 1.05)" font-size="20.6" text-anchor="end" fill="#111111" class="tk">25</text>
<line x1="1180.6" y1="1674.15" x2="1185.6" y2="1674.15" stroke="#333333" stroke-width="1.3"/>
<text transform="translate(1177.3 1682.75) scale(1 1.05)" font-size="20.6" text-anchor="end" fill="#111111" class="tk">50</text>
<line x1="1180.6" y1="1597.57" x2="1185.6" y2="1597.57" stroke="#333333" stroke-width="1.3"/>
<text transform="translate(1177.3 1606.17) scale(1 1.05)" font-size="20.6" text-anchor="end" fill="#111111" class="tk">75</text>
<line x1="1180.6" y1="1521" x2="1185.6" y2="1521" stroke="#333333" stroke-width="1.3"/>
<text transform="translate(1177.3 1529.6) scale(1 1.05)" font-size="20.6" text-anchor="end" fill="#111111" class="tk">100</text>
<line x1="1203.7" y1="1841.7" x2="1203.7" y2="1847.2" stroke="#333333" stroke-width="1.3"/>
<text transform="translate(1203.7 1864.5) scale(1 1.05)" font-size="20.6" text-anchor="middle" fill="#111111" class="tk">0</text>
<line x1="1279.03" y1="1841.7" x2="1279.03" y2="1847.2" stroke="#333333" stroke-width="1.3"/>
<text transform="translate(1279.03 1864.5) scale(1 1.05)" font-size="20.6" text-anchor="middle" fill="#111111" class="tk">5</text>
<line x1="1354.35" y1="1841.7" x2="1354.35" y2="1847.2" stroke="#333333" stroke-width="1.3"/>
<text transform="translate(1354.35 1864.5) scale(1 1.05)" font-size="20.6" text-anchor="middle" fill="#111111" class="tk">10</text>
<line x1="1429.67" y1="1841.7" x2="1429.67" y2="1847.2" stroke="#333333" stroke-width="1.3"/>
<text transform="translate(1429.67 1864.5) scale(1 1.05)" font-size="20.6" text-anchor="middle" fill="#111111" class="tk">15</text>
<line x1="1505" y1="1841.7" x2="1505" y2="1847.2" stroke="#333333" stroke-width="1.3"/>
<text transform="translate(1505 1864.5) scale(1 1.05)" font-size="20.6" text-anchor="middle" fill="#111111" class="tk">20</text>
<line x1="1580.33" y1="1841.7" x2="1580.33" y2="1847.2" stroke="#333333" stroke-width="1.3"/>
<text transform="translate(1580.33 1864.5) scale(1 1.05)" font-size="20.6" text-anchor="middle" fill="#111111" class="tk">25</text>
<text transform="translate(1391.3 1893.5)" font-size="29.3" text-anchor="middle" fill="#000">Time (months)</text>
<text x="0" y="0" font-size="29" text-anchor="middle" transform="translate(1138.5 1675.1) rotate(-90) scale(1 1.0)">Progression-free patients (%)</text>
<text transform="translate(1591.5 1832.3) scale(1 1.0)" font-size="28.8" text-anchor="end"><tspan font-style="italic">P</tspan> = 0.50</text>
<text transform="translate(1391 1346.5)" font-size="29.4" font-weight="bold" text-anchor="middle" fill="#000">CMV status: TTP</text>
<text transform="translate(1350.1 1378.8)" font-size="20.8" text-anchor="middle" fill="#000">6-month visit</text>
<text transform="translate(1527.6 1378.8)" font-size="20.8" text-anchor="middle" fill="#000">12-month visit</text>
<text transform="translate(1314.2 1406)" font-size="20.8" font-weight="bold" text-anchor="middle" fill="#000">CMV-</text>
<text transform="translate(1390 1406)" font-size="20.8" font-weight="bold" text-anchor="middle" fill="#000">CMV+</text>
<text transform="translate(1492.5 1406)" font-size="20.8" font-weight="bold" text-anchor="middle" fill="#000">CMV-</text>
<text transform="translate(1567.5 1406)" font-size="20.8" font-weight="bold" text-anchor="middle" fill="#000">CMV+</text>
<text transform="translate(1217.1 1427.6)" font-size="20.8" font-weight="bold" text-anchor="middle" fill="#000">At risk</text>
<text transform="translate(1314.2 1427.6)" font-size="20.8" text-anchor="middle" fill="#000">n = 3</text>
<text transform="translate(1390 1427.6)" font-size="20.8" text-anchor="middle" fill="#000">n = 12</text>
<text transform="translate(1492.5 1427.6)" font-size="20.8" text-anchor="middle" fill="#000">n = 3</text>
<text transform="translate(1567.5 1427.6)" font-size="20.8" text-anchor="middle" fill="#000">n = 11</text>
<text transform="translate(1217.1 1450.2)" font-size="20.8" font-weight="bold" text-anchor="middle" fill="#000">PD</text>
<text transform="translate(1314.2 1450.2)" font-size="20.8" text-anchor="middle" fill="#000">n = 6</text>
<text transform="translate(1390 1450.2)" font-size="20.8" text-anchor="middle" fill="#000">n = 10</text>
<text transform="translate(1492.5 1450.2)" font-size="20.8" text-anchor="middle" fill="#000">n = 7</text>
<text transform="translate(1567.5 1450.2)" font-size="20.8" text-anchor="middle" fill="#000">n = 11</text>
<text transform="translate(1217.1 1472.4)" font-size="20.8" font-weight="bold" text-anchor="middle" fill="#000">PFS</text>
<text transform="translate(1314.2 1472.4)" font-size="20.8" text-anchor="middle" fill="#000">37.5%</text>
<text transform="translate(1390 1472.4)" font-size="20.8" text-anchor="middle" fill="#000">54.5%</text>
<text transform="translate(1492.5 1472.4)" font-size="20.8" text-anchor="middle" fill="#000">30.0%</text>
<text transform="translate(1567.5 1472.4)" font-size="20.8" text-anchor="middle" fill="#000">50.0%</text>
<text transform="translate(1217.1 1494)" font-size="20.8" font-weight="bold" text-anchor="middle" fill="#000">SE</text>
<text transform="translate(1314.2 1494)" font-size="20.8" text-anchor="middle" fill="#000">16.1%</text>
<text transform="translate(1390 1494)" font-size="20.8" text-anchor="middle" fill="#000">10.6%</text>
<text transform="translate(1492.5 1494)" font-size="20.8" text-anchor="middle" fill="#000">14.5%</text>
<text transform="translate(1567.5 1494)" font-size="20.8" text-anchor="middle" fill="#000">10.7%</text>
<rect x="1682.6" y="1506.9" width="413.4" height="334.8" fill="#fff"/>
<line x1="1738.56" y1="1506.9" x2="1738.56" y2="1841.7" stroke="#ebebeb" stroke-width="1"/>
<line x1="1813.89" y1="1506.9" x2="1813.89" y2="1841.7" stroke="#ebebeb" stroke-width="1"/>
<line x1="1889.21" y1="1506.9" x2="1889.21" y2="1841.7" stroke="#ebebeb" stroke-width="1"/>
<line x1="1964.54" y1="1506.9" x2="1964.54" y2="1841.7" stroke="#ebebeb" stroke-width="1"/>
<line x1="2039.86" y1="1506.9" x2="2039.86" y2="1841.7" stroke="#ebebeb" stroke-width="1"/>
<line x1="1682.6" y1="1789.01" x2="2096" y2="1789.01" stroke="#ebebeb" stroke-width="1"/>
<line x1="1682.6" y1="1712.44" x2="2096" y2="1712.44" stroke="#ebebeb" stroke-width="1"/>
<line x1="1682.6" y1="1635.86" x2="2096" y2="1635.86" stroke="#ebebeb" stroke-width="1"/>
<line x1="1682.6" y1="1559.29" x2="2096" y2="1559.29" stroke="#ebebeb" stroke-width="1"/>
<line x1="1700.9" y1="1506.9" x2="1700.9" y2="1841.7" stroke="#ebebeb" stroke-width="1.8"/>
<line x1="1776.23" y1="1506.9" x2="1776.23" y2="1841.7" stroke="#ebebeb" stroke-width="1.8"/>
<line x1="1851.55" y1="1506.9" x2="1851.55" y2="1841.7" stroke="#ebebeb" stroke-width="1.8"/>
<line x1="1926.88" y1="1506.9" x2="1926.88" y2="1841.7" stroke="#ebebeb" stroke-width="1.8"/>
<line x1="2002.2" y1="1506.9" x2="2002.2" y2="1841.7" stroke="#ebebeb" stroke-width="1.8"/>
<line x1="2077.53" y1="1506.9" x2="2077.53" y2="1841.7" stroke="#ebebeb" stroke-width="1.8"/>
<line x1="1682.6" y1="1827.3" x2="2096" y2="1827.3" stroke="#ebebeb" stroke-width="1.8"/>
<line x1="1682.6" y1="1750.72" x2="2096" y2="1750.72" stroke="#ebebeb" stroke-width="1.8"/>
<line x1="1682.6" y1="1674.15" x2="2096" y2="1674.15" stroke="#ebebeb" stroke-width="1.8"/>
<line x1="1682.6" y1="1597.57" x2="2096" y2="1597.57" stroke="#ebebeb" stroke-width="1.8"/>
<line x1="1682.6" y1="1521" x2="2096" y2="1521" stroke="#ebebeb" stroke-width="1.8"/>
<path d="M1700.9 1521H1923.71V1523.14H2057.94" fill="none" stroke="#2222dd" stroke-width="2" stroke-dasharray="11.2 5.6"/>
<path d="M1700.9 1521H1751.82V1602.78H1769.9V1647.5H1809.07V1684.56H1923.71V1716.11H2057.94" fill="none" stroke="#2222dd" stroke-width="2" stroke-dasharray="11.2 5.6"/>
<path d="M1700.9 1521H1810.87V1523.45H1840.1V1529.88H1937.42V1539.38H1951.73V1549.18H1983.37V1561.13H2068.49" fill="none" stroke="#dd2222" stroke-width="2" stroke-dasharray="11.2 5.6"/>
<path d="M1700.9 1521H1748.81V1560.51H1761.16V1583.49H1785.57V1603.39H1810.87V1621.16H1840.1V1638.62H1937.42V1656.69H1951.73V1675.99H1983.37V1700.49H2068.49" fill="none" stroke="#dd2222" stroke-width="2" stroke-dasharray="11.2 5.6"/>
<path d="M1700.9 1521H1748.81V1534.78H1761.16V1548.87H1785.57V1562.66H1810.87V1576.75H1840.1V1590.53H1937.42V1605.23H1951.73V1622.39H1983.37V1642.91H2063.97" fill="none" stroke="#ff0000" stroke-width="3.7"/>
<path d="M1700.9 1521H1751.82V1551.63H1769.9V1582.26H1809.07V1612.89H1923.71V1643.52H2063.97" fill="none" stroke="#0000ff" stroke-width="3.7"/>
<line x1="1917.86" y1="1590.53" x2="1926.86" y2="1590.53" stroke="#7a7a7a" stroke-width="1.8"/>
<line x1="1922.36" y1="1584.93" x2="1922.36" y2="1596.13" stroke="#5c5c5c" stroke-width="2.2"/>
<line x1="1935.18" y1="1605.23" x2="1944.18" y2="1605.23" stroke="#7a7a7a" stroke-width="1.8"/>
<line x1="1939.68" y1="1599.63" x2="1939.68" y2="1610.83" stroke="#5c5c5c" stroke-width="2.2"/>
<line x1="1938.95" y1="1605.23" x2="1947.95" y2="1605.23" stroke="#7a7a7a" stroke-width="1.8"/>
<line x1="1943.45" y1="1599.63" x2="1943.45" y2="1610.83" stroke="#5c5c5c" stroke-width="2.2"/>
<line x1="1941.96" y1="1605.23" x2="1950.96" y2="1605.23" stroke="#7a7a7a" stroke-width="1.8"/>
<line x1="1946.46" y1="1599.63" x2="1946.46" y2="1610.83" stroke="#5c5c5c" stroke-width="2.2"/>
<line x1="1962.6" y1="1622.39" x2="1971.6" y2="1622.39" stroke="#7a7a7a" stroke-width="1.8"/>
<line x1="1967.1" y1="1616.79" x2="1967.1" y2="1627.99" stroke="#5c5c5c" stroke-width="2.2"/>
<line x1="1966.82" y1="1622.39" x2="1975.82" y2="1622.39" stroke="#7a7a7a" stroke-width="1.8"/>
<line x1="1971.32" y1="1616.79" x2="1971.32" y2="1627.99" stroke="#5c5c5c" stroke-width="2.2"/>
<line x1="1979.92" y1="1642.91" x2="1988.92" y2="1642.91" stroke="#7a7a7a" stroke-width="1.8"/>
<line x1="1984.42" y1="1637.31" x2="1984.42" y2="1648.51" stroke="#5c5c5c" stroke-width="2.2"/>
<line x1="1987.46" y1="1642.91" x2="1996.46" y2="1642.91" stroke="#7a7a7a" stroke-width="1.8"/>
<line x1="1991.96" y1="1637.31" x2="1991.96" y2="1648.51" stroke="#5c5c5c" stroke-width="2.2"/>
<line x1="1996.04" y1="1642.91" x2="2005.04" y2="1642.91" stroke="#7a7a7a" stroke-width="1.8"/>
<line x1="2000.54" y1="1637.31" x2="2000.54" y2="1648.51" stroke="#5c5c5c" stroke-width="2.2"/>
<line x1="2015.93" y1="1642.91" x2="2024.93" y2="1642.91" stroke="#7a7a7a" stroke-width="1.8"/>
<line x1="2020.43" y1="1637.31" x2="2020.43" y2="1648.51" stroke="#5c5c5c" stroke-width="2.2"/>
<line x1="2023.31" y1="1642.91" x2="2032.31" y2="1642.91" stroke="#7a7a7a" stroke-width="1.8"/>
<line x1="2027.81" y1="1637.31" x2="2027.81" y2="1648.51" stroke="#5c5c5c" stroke-width="2.2"/>
<line x1="2030.84" y1="1642.91" x2="2039.84" y2="1642.91" stroke="#7a7a7a" stroke-width="1.8"/>
<line x1="2035.34" y1="1637.31" x2="2035.34" y2="1648.51" stroke="#5c5c5c" stroke-width="2.2"/>
<line x1="2039.58" y1="1642.91" x2="2048.58" y2="1642.91" stroke="#7a7a7a" stroke-width="1.8"/>
<line x1="2044.08" y1="1637.31" x2="2044.08" y2="1648.51" stroke="#5c5c5c" stroke-width="2.2"/>
<line x1="2048.32" y1="1642.91" x2="2057.32" y2="1642.91" stroke="#7a7a7a" stroke-width="1.8"/>
<line x1="2052.82" y1="1637.31" x2="2052.82" y2="1648.51" stroke="#5c5c5c" stroke-width="2.2"/>
<line x1="2053.29" y1="1642.91" x2="2062.29" y2="1642.91" stroke="#7a7a7a" stroke-width="1.8"/>
<line x1="2057.79" y1="1637.31" x2="2057.79" y2="1648.51" stroke="#5c5c5c" stroke-width="2.2"/>
<line x1="2059.47" y1="1642.91" x2="2068.47" y2="1642.91" stroke="#7a7a7a" stroke-width="1.8"/>
<line x1="2063.97" y1="1637.31" x2="2063.97" y2="1648.51" stroke="#5c5c5c" stroke-width="2.2"/>
<line x1="1950.25" y1="1643.52" x2="1959.25" y2="1643.52" stroke="#7a7a7a" stroke-width="1.8"/>
<line x1="1954.75" y1="1637.92" x2="1954.75" y2="1649.12" stroke="#5c5c5c" stroke-width="2.2"/>
<line x1="2059.47" y1="1643.52" x2="2068.47" y2="1643.52" stroke="#7a7a7a" stroke-width="1.8"/>
<line x1="2063.97" y1="1637.92" x2="2063.97" y2="1649.12" stroke="#5c5c5c" stroke-width="2.2"/>
<line x1="1881.68" y1="1506.9" x2="1881.68" y2="1841.7" stroke="#000" stroke-width="2.2" stroke-dasharray="7 3"/>
<line x1="1972.07" y1="1506.9" x2="1972.07" y2="1841.7" stroke="#000" stroke-width="2.2" stroke-dasharray="7 3"/>
<rect x="1682.6" y="1506.9" width="413.4" height="334.8" fill="none" stroke="#4a4a4a" stroke-width="1.3"/>
<line x1="1677.6" y1="1827.3" x2="1682.6" y2="1827.3" stroke="#333333" stroke-width="1.3"/>
<text transform="translate(1674.3 1835.9) scale(1 1.05)" font-size="20.6" text-anchor="end" fill="#111111" class="tk">0</text>
<line x1="1677.6" y1="1750.72" x2="1682.6" y2="1750.72" stroke="#333333" stroke-width="1.3"/>
<text transform="translate(1674.3 1759.32) scale(1 1.05)" font-size="20.6" text-anchor="end" fill="#111111" class="tk">25</text>
<line x1="1677.6" y1="1674.15" x2="1682.6" y2="1674.15" stroke="#333333" stroke-width="1.3"/>
<text transform="translate(1674.3 1682.75) scale(1 1.05)" font-size="20.6" text-anchor="end" fill="#111111" class="tk">50</text>
<line x1="1677.6" y1="1597.57" x2="1682.6" y2="1597.57" stroke="#333333" stroke-width="1.3"/>
<text transform="translate(1674.3 1606.17) scale(1 1.05)" font-size="20.6" text-anchor="end" fill="#111111" class="tk">75</text>
<line x1="1677.6" y1="1521" x2="1682.6" y2="1521" stroke="#333333" stroke-width="1.3"/>
<text transform="translate(1674.3 1529.6) scale(1 1.05)" font-size="20.6" text-anchor="end" fill="#111111" class="tk">100</text>
<line x1="1700.9" y1="1841.7" x2="1700.9" y2="1847.2" stroke="#333333" stroke-width="1.3"/>
<text transform="translate(1700.9 1864.5) scale(1 1.05)" font-size="20.6" text-anchor="middle" fill="#111111" class="tk">0</text>
<line x1="1776.23" y1="1841.7" x2="1776.23" y2="1847.2" stroke="#333333" stroke-width="1.3"/>
<text transform="translate(1776.23 1864.5) scale(1 1.05)" font-size="20.6" text-anchor="middle" fill="#111111" class="tk">5</text>
<line x1="1851.55" y1="1841.7" x2="1851.55" y2="1847.2" stroke="#333333" stroke-width="1.3"/>
<text transform="translate(1851.55 1864.5) scale(1 1.05)" font-size="20.6" text-anchor="middle" fill="#111111" class="tk">10</text>
<line x1="1926.88" y1="1841.7" x2="1926.88" y2="1847.2" stroke="#333333" stroke-width="1.3"/>
<text transform="translate(1926.88 1864.5) scale(1 1.05)" font-size="20.6" text-anchor="middle" fill="#111111" class="tk">15</text>
<line x1="2002.2" y1="1841.7" x2="2002.2" y2="1847.2" stroke="#333333" stroke-width="1.3"/>
<text transform="translate(2002.2 1864.5) scale(1 1.05)" font-size="20.6" text-anchor="middle" fill="#111111" class="tk">20</text>
<line x1="2077.53" y1="1841.7" x2="2077.53" y2="1847.2" stroke="#333333" stroke-width="1.3"/>
<text transform="translate(2077.53 1864.5) scale(1 1.05)" font-size="20.6" text-anchor="middle" fill="#111111" class="tk">25</text>
<text transform="translate(1888.8 1893.5)" font-size="29.3" text-anchor="middle" fill="#000">Time (months)</text>
<text x="0" y="0" font-size="29" text-anchor="middle" transform="translate(1639.8 1675.1) rotate(-90) scale(1 1.0)">Overall survival (%)</text>
<text transform="translate(2089.5 1832.3) scale(1 1.0)" font-size="28.8" text-anchor="end"><tspan font-style="italic">P</tspan> = 0.80</text>
<text transform="translate(1885 1346.5)" font-size="29.4" font-weight="bold" text-anchor="middle" fill="#000">CMV status: OS</text>
<text transform="translate(1848.4 1378.8)" font-size="20.8" text-anchor="middle" fill="#000">12 months</text>
<text transform="translate(2024.7 1378.8)" font-size="20.8" text-anchor="middle" fill="#000">18 months</text>
<text transform="translate(1811.2 1406)" font-size="20.8" font-weight="bold" text-anchor="middle" fill="#000">CMV-</text>
<text transform="translate(1887 1406)" font-size="20.8" font-weight="bold" text-anchor="middle" fill="#000">CMV+</text>
<text transform="translate(1989.5 1406)" font-size="20.8" font-weight="bold" text-anchor="middle" fill="#000">CMV-</text>
<text transform="translate(2065 1406)" font-size="20.8" font-weight="bold" text-anchor="middle" fill="#000">CMV+</text>
<text transform="translate(1714.1 1427.6)" font-size="20.8" font-weight="bold" text-anchor="middle" fill="#000">At risk</text>
<text transform="translate(1811.2 1427.6)" font-size="20.8" text-anchor="middle" fill="#000">n = 7</text>
<text transform="translate(1887 1427.6)" font-size="20.8" text-anchor="middle" fill="#000">n = 17</text>
<text transform="translate(1989.5 1427.6)" font-size="20.8" text-anchor="middle" fill="#000">n = 5</text>
<text transform="translate(2065 1427.6)" font-size="20.8" text-anchor="middle" fill="#000">n = 10</text>
<text transform="translate(1714.1 1450.2)" font-size="20.8" font-weight="bold" text-anchor="middle" fill="#000">Death</text>
<text transform="translate(1811.2 1450.2)" font-size="20.8" text-anchor="middle" fill="#000">n = 3</text>
<text transform="translate(1887 1450.2)" font-size="20.8" text-anchor="middle" fill="#000">n = 5</text>
<text transform="translate(1989.5 1450.2)" font-size="20.8" text-anchor="middle" fill="#000">n = 4</text>
<text transform="translate(2065 1450.2)" font-size="20.8" text-anchor="middle" fill="#000">n = 7</text>
<text transform="translate(1714.1 1472.4)" font-size="20.8" font-weight="bold" text-anchor="middle" fill="#000">OS</text>
<text transform="translate(1811.2 1472.4)" font-size="20.8" text-anchor="middle" fill="#000">70.0%</text>
<text transform="translate(1887 1472.4)" font-size="20.8" text-anchor="middle" fill="#000">77.3%</text>
<text transform="translate(1989.5 1472.4)" font-size="20.8" text-anchor="middle" fill="#000">60.0%</text>
<text transform="translate(2065 1472.4)" font-size="20.8" text-anchor="middle" fill="#000">66.9%</text>
<text transform="translate(1714.1 1494)" font-size="20.8" font-weight="bold" text-anchor="middle" fill="#000">SE</text>
<text transform="translate(1811.2 1494)" font-size="20.8" text-anchor="middle" fill="#000">14.5%</text>
<text transform="translate(1887 1494)" font-size="20.8" text-anchor="middle" fill="#000">8.9%</text>
<text transform="translate(1989.5 1494)" font-size="20.8" text-anchor="middle" fill="#000">15.5%</text>
<text transform="translate(2065 1494)" font-size="20.8" text-anchor="middle" fill="#000">10.3%</text>
<rect x="1517.3" y="1893" width="24.5" height="8" fill="#0000ff"/>
<text transform="translate(1552.1 1904.5)" font-size="28" fill="#000">CMV-</text>
<rect x="1648.3" y="1893" width="25" height="8" fill="#ff0000"/>
<text transform="translate(1682.9 1904.5)" font-size="28" fill="#000">CMV+</text>
</svg>
</body></html>
